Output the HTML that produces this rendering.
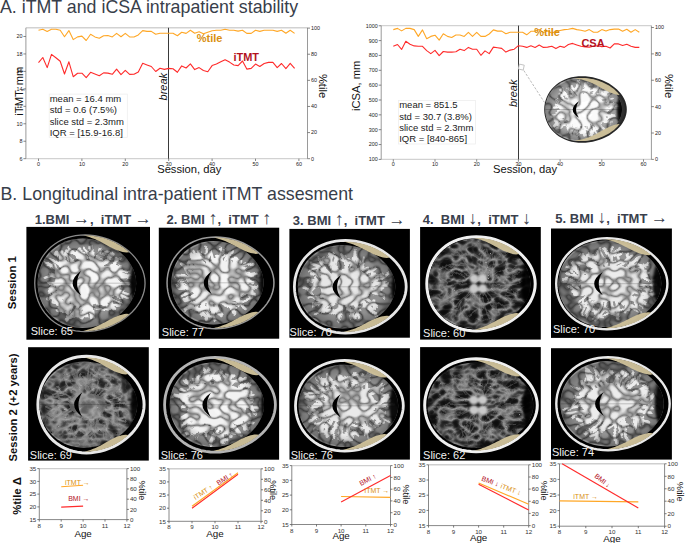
<!DOCTYPE html>
<html><head><meta charset="utf-8"><style>
html,body{margin:0;padding:0;background:#fff;width:685px;height:543px;overflow:hidden}
svg{display:block;font-family:'Liberation Sans', sans-serif} text{white-space:pre}
</style></head><body>
<svg width="685" height="543" viewBox="0 0 685 543">
<defs><filter id="d_inset" x="-5%" y="-5%" width="110%" height="110%" color-interpolation-filters="sRGB">
<feTurbulence type="fractalNoise" baseFrequency="0.08" numOctaves="2" seed="2" result="n"/>
<feDisplacementMap in="SourceGraphic" in2="n" scale="6" xChannelSelector="R" yChannelSelector="G" result="dm"/>
<feGaussianBlur in="dm" stdDeviation="0.45"/>
</filter>
<filter id="s_inset" x="0" y="0" width="1" height="1" color-interpolation-filters="sRGB">
<feTurbulence type="turbulence" baseFrequency="0.1 0.115" numOctaves="1" seed="52" result="t"/>
<feComponentTransfer in="t" result="k"><feFuncA type="table" tableValues="1 0.55 0.1 0 0 0 0 0 0 0"/></feComponentTransfer>
<feColorMatrix in="k" type="matrix" values="0 0 0 0 0  0 0 0 0 0  0 0 0 0 0  0 0 0 0.45 0" result="m"/>
<feGaussianBlur in="m" stdDeviation="0.3"/>
</filter>
<filter id="d_r1b1" x="-5%" y="-5%" width="110%" height="110%" color-interpolation-filters="sRGB">
<feTurbulence type="fractalNoise" baseFrequency="0.06" numOctaves="2" seed="3" result="n"/>
<feDisplacementMap in="SourceGraphic" in2="n" scale="9" xChannelSelector="R" yChannelSelector="G" result="dm"/>
<feGaussianBlur in="dm" stdDeviation="0.45"/>
</filter>
<filter id="s_r1b1" x="0" y="0" width="1" height="1" color-interpolation-filters="sRGB">
<feTurbulence type="turbulence" baseFrequency="0.1 0.115" numOctaves="1" seed="53" result="t"/>
<feComponentTransfer in="t" result="k"><feFuncA type="table" tableValues="1 0.55 0.1 0 0 0 0 0 0 0"/></feComponentTransfer>
<feColorMatrix in="k" type="matrix" values="0 0 0 0 0  0 0 0 0 0  0 0 0 0 0  0 0 0 0.5 0" result="m"/>
<feGaussianBlur in="m" stdDeviation="0.3"/>
</filter>
<filter id="d_r1b2" x="-5%" y="-5%" width="110%" height="110%" color-interpolation-filters="sRGB">
<feTurbulence type="fractalNoise" baseFrequency="0.06" numOctaves="2" seed="5" result="n"/>
<feDisplacementMap in="SourceGraphic" in2="n" scale="9" xChannelSelector="R" yChannelSelector="G" result="dm"/>
<feGaussianBlur in="dm" stdDeviation="0.45"/>
</filter>
<filter id="s_r1b2" x="0" y="0" width="1" height="1" color-interpolation-filters="sRGB">
<feTurbulence type="turbulence" baseFrequency="0.1 0.115" numOctaves="1" seed="55" result="t"/>
<feComponentTransfer in="t" result="k"><feFuncA type="table" tableValues="1 0.55 0.1 0 0 0 0 0 0 0"/></feComponentTransfer>
<feColorMatrix in="k" type="matrix" values="0 0 0 0 0  0 0 0 0 0  0 0 0 0 0  0 0 0 0.5 0" result="m"/>
<feGaussianBlur in="m" stdDeviation="0.3"/>
</filter>
<filter id="d_r1b3" x="-5%" y="-5%" width="110%" height="110%" color-interpolation-filters="sRGB">
<feTurbulence type="fractalNoise" baseFrequency="0.06" numOctaves="2" seed="7" result="n"/>
<feDisplacementMap in="SourceGraphic" in2="n" scale="9" xChannelSelector="R" yChannelSelector="G" result="dm"/>
<feGaussianBlur in="dm" stdDeviation="0.45"/>
</filter>
<filter id="s_r1b3" x="0" y="0" width="1" height="1" color-interpolation-filters="sRGB">
<feTurbulence type="turbulence" baseFrequency="0.1 0.115" numOctaves="1" seed="57" result="t"/>
<feComponentTransfer in="t" result="k"><feFuncA type="table" tableValues="1 0.55 0.1 0 0 0 0 0 0 0"/></feComponentTransfer>
<feColorMatrix in="k" type="matrix" values="0 0 0 0 0  0 0 0 0 0  0 0 0 0 0  0 0 0 0.48 0" result="m"/>
<feGaussianBlur in="m" stdDeviation="0.3"/>
</filter>
<filter id="d_r1b4" x="-5%" y="-5%" width="110%" height="110%" color-interpolation-filters="sRGB">
<feTurbulence type="fractalNoise" baseFrequency="0.06" numOctaves="2" seed="11" result="n"/>
<feDisplacementMap in="SourceGraphic" in2="n" scale="9" xChannelSelector="R" yChannelSelector="G" result="dm"/>
<feGaussianBlur in="dm" stdDeviation="0.45"/>
</filter>
<filter id="t_r1b4" x="0" y="0" width="1" height="1" color-interpolation-filters="sRGB">
<feTurbulence type="turbulence" baseFrequency="0.075 0.1" numOctaves="2" seed="18" result="t"/>
<feColorMatrix in="t" type="matrix" values="1 0 0 0 0  1 0 0 0 0  1 0 0 0 0  0 0 0 0 1" result="g"/>
<feComponentTransfer in="g"><feFuncR type="table" tableValues="0.6 0.44 0.2 0.09 0.06 0.05 0.05"/><feFuncG type="table" tableValues="0.6 0.44 0.2 0.09 0.06 0.05 0.05"/><feFuncB type="table" tableValues="0.6 0.44 0.2 0.09 0.06 0.05 0.05"/></feComponentTransfer>
<feGaussianBlur stdDeviation="0.3"/>
</filter>
<filter id="d_r1b5" x="-5%" y="-5%" width="110%" height="110%" color-interpolation-filters="sRGB">
<feTurbulence type="fractalNoise" baseFrequency="0.06" numOctaves="2" seed="13" result="n"/>
<feDisplacementMap in="SourceGraphic" in2="n" scale="9" xChannelSelector="R" yChannelSelector="G" result="dm"/>
<feGaussianBlur in="dm" stdDeviation="0.45"/>
</filter>
<filter id="s_r1b5" x="0" y="0" width="1" height="1" color-interpolation-filters="sRGB">
<feTurbulence type="turbulence" baseFrequency="0.1 0.115" numOctaves="1" seed="63" result="t"/>
<feComponentTransfer in="t" result="k"><feFuncA type="table" tableValues="1 0.55 0.1 0 0 0 0 0 0 0"/></feComponentTransfer>
<feColorMatrix in="k" type="matrix" values="0 0 0 0 0  0 0 0 0 0  0 0 0 0 0  0 0 0 0.48 0" result="m"/>
<feGaussianBlur in="m" stdDeviation="0.3"/>
</filter>
<filter id="d_r2b1" x="-5%" y="-5%" width="110%" height="110%" color-interpolation-filters="sRGB">
<feTurbulence type="fractalNoise" baseFrequency="0.06" numOctaves="2" seed="17" result="n"/>
<feDisplacementMap in="SourceGraphic" in2="n" scale="9" xChannelSelector="R" yChannelSelector="G" result="dm"/>
<feGaussianBlur in="dm" stdDeviation="0.45"/>
</filter>
<filter id="t_r2b1" x="0" y="0" width="1" height="1" color-interpolation-filters="sRGB">
<feTurbulence type="turbulence" baseFrequency="0.075 0.1" numOctaves="2" seed="24" result="t"/>
<feColorMatrix in="t" type="matrix" values="1 0 0 0 0  1 0 0 0 0  1 0 0 0 0  0 0 0 0 1" result="g"/>
<feComponentTransfer in="g"><feFuncR type="table" tableValues="0.64 0.5 0.28 0.15 0.11 0.1 0.1"/><feFuncG type="table" tableValues="0.64 0.5 0.28 0.15 0.11 0.1 0.1"/><feFuncB type="table" tableValues="0.64 0.5 0.28 0.15 0.11 0.1 0.1"/></feComponentTransfer>
<feGaussianBlur stdDeviation="0.3"/>
</filter>
<filter id="d_r2b2" x="-5%" y="-5%" width="110%" height="110%" color-interpolation-filters="sRGB">
<feTurbulence type="fractalNoise" baseFrequency="0.06" numOctaves="2" seed="19" result="n"/>
<feDisplacementMap in="SourceGraphic" in2="n" scale="9" xChannelSelector="R" yChannelSelector="G" result="dm"/>
<feGaussianBlur in="dm" stdDeviation="0.45"/>
</filter>
<filter id="s_r2b2" x="0" y="0" width="1" height="1" color-interpolation-filters="sRGB">
<feTurbulence type="turbulence" baseFrequency="0.1 0.115" numOctaves="1" seed="69" result="t"/>
<feComponentTransfer in="t" result="k"><feFuncA type="table" tableValues="1 0.55 0.1 0 0 0 0 0 0 0"/></feComponentTransfer>
<feColorMatrix in="k" type="matrix" values="0 0 0 0 0  0 0 0 0 0  0 0 0 0 0  0 0 0 0.5 0" result="m"/>
<feGaussianBlur in="m" stdDeviation="0.3"/>
</filter>
<filter id="d_r2b3" x="-5%" y="-5%" width="110%" height="110%" color-interpolation-filters="sRGB">
<feTurbulence type="fractalNoise" baseFrequency="0.06" numOctaves="2" seed="23" result="n"/>
<feDisplacementMap in="SourceGraphic" in2="n" scale="9" xChannelSelector="R" yChannelSelector="G" result="dm"/>
<feGaussianBlur in="dm" stdDeviation="0.45"/>
</filter>
<filter id="s_r2b3" x="0" y="0" width="1" height="1" color-interpolation-filters="sRGB">
<feTurbulence type="turbulence" baseFrequency="0.1 0.115" numOctaves="1" seed="73" result="t"/>
<feComponentTransfer in="t" result="k"><feFuncA type="table" tableValues="1 0.55 0.1 0 0 0 0 0 0 0"/></feComponentTransfer>
<feColorMatrix in="k" type="matrix" values="0 0 0 0 0  0 0 0 0 0  0 0 0 0 0  0 0 0 0.48 0" result="m"/>
<feGaussianBlur in="m" stdDeviation="0.3"/>
</filter>
<filter id="d_r2b4" x="-5%" y="-5%" width="110%" height="110%" color-interpolation-filters="sRGB">
<feTurbulence type="fractalNoise" baseFrequency="0.06" numOctaves="2" seed="29" result="n"/>
<feDisplacementMap in="SourceGraphic" in2="n" scale="9" xChannelSelector="R" yChannelSelector="G" result="dm"/>
<feGaussianBlur in="dm" stdDeviation="0.45"/>
</filter>
<filter id="t_r2b4" x="0" y="0" width="1" height="1" color-interpolation-filters="sRGB">
<feTurbulence type="turbulence" baseFrequency="0.075 0.1" numOctaves="2" seed="36" result="t"/>
<feColorMatrix in="t" type="matrix" values="1 0 0 0 0  1 0 0 0 0  1 0 0 0 0  0 0 0 0 1" result="g"/>
<feComponentTransfer in="g"><feFuncR type="table" tableValues="0.6 0.44 0.2 0.09 0.06 0.05 0.05"/><feFuncG type="table" tableValues="0.6 0.44 0.2 0.09 0.06 0.05 0.05"/><feFuncB type="table" tableValues="0.6 0.44 0.2 0.09 0.06 0.05 0.05"/></feComponentTransfer>
<feGaussianBlur stdDeviation="0.3"/>
</filter>
<filter id="d_r2b5" x="-5%" y="-5%" width="110%" height="110%" color-interpolation-filters="sRGB">
<feTurbulence type="fractalNoise" baseFrequency="0.06" numOctaves="2" seed="31" result="n"/>
<feDisplacementMap in="SourceGraphic" in2="n" scale="9" xChannelSelector="R" yChannelSelector="G" result="dm"/>
<feGaussianBlur in="dm" stdDeviation="0.45"/>
</filter>
<filter id="s_r2b5" x="0" y="0" width="1" height="1" color-interpolation-filters="sRGB">
<feTurbulence type="turbulence" baseFrequency="0.1 0.115" numOctaves="1" seed="81" result="t"/>
<feComponentTransfer in="t" result="k"><feFuncA type="table" tableValues="1 0.55 0.1 0 0 0 0 0 0 0"/></feComponentTransfer>
<feColorMatrix in="k" type="matrix" values="0 0 0 0 0  0 0 0 0 0  0 0 0 0 0  0 0 0 0.48 0" result="m"/>
<feGaussianBlur in="m" stdDeviation="0.3"/>
</filter>
<filter id="soft2" x="-20%" y="-20%" width="140%" height="140%"><feGaussianBlur stdDeviation="0.9"/></filter>
<filter id="soft" x="-20%" y="-20%" width="140%" height="140%"><feGaussianBlur stdDeviation="0.6"/></filter>
<radialGradient id="vign"><stop offset="0.72" stop-color="#000" stop-opacity="0"/><stop offset="1" stop-color="#000" stop-opacity="0.25"/></radialGradient></defs>
<text x="0" y="12.8" font-size="17.8" fill="#383e4a" font-weight="400" text-anchor="start" font-style="normal" >A. iTMT and iCSA intrapatient stability</text>
<line x1="25.9" y1="27.8" x2="307.5" y2="27.8" stroke="#d2d2d2" stroke-width="1.4"/>
<line x1="25.9" y1="158.7" x2="307.5" y2="158.7" stroke="#d2d2d2" stroke-width="1.2"/>
<line x1="25.9" y1="27.8" x2="25.9" y2="158.7" stroke="#9a9a9a" stroke-width="1"/>
<line x1="307.5" y1="27.8" x2="307.5" y2="158.7" stroke="#9a9a9a" stroke-width="1"/>
<line x1="23.4" y1="158.7" x2="25.9" y2="158.7" stroke="#555" stroke-width="0.7"/>
<text x="22.4" y="160.6" font-size="5.4" fill="#222" font-weight="400" text-anchor="end" font-style="normal" >6</text>
<line x1="23.4" y1="141.23999999999998" x2="25.9" y2="141.23999999999998" stroke="#555" stroke-width="0.7"/>
<text x="22.4" y="143.14" font-size="5.4" fill="#222" font-weight="400" text-anchor="end" font-style="normal" >8</text>
<line x1="23.4" y1="123.77999999999999" x2="25.9" y2="123.77999999999999" stroke="#555" stroke-width="0.7"/>
<text x="22.4" y="125.67999999999999" font-size="5.4" fill="#222" font-weight="400" text-anchor="end" font-style="normal" >10</text>
<line x1="23.4" y1="106.32" x2="25.9" y2="106.32" stroke="#555" stroke-width="0.7"/>
<text x="22.4" y="108.22" font-size="5.4" fill="#222" font-weight="400" text-anchor="end" font-style="normal" >12</text>
<line x1="23.4" y1="88.85999999999999" x2="25.9" y2="88.85999999999999" stroke="#555" stroke-width="0.7"/>
<text x="22.4" y="90.75999999999999" font-size="5.4" fill="#222" font-weight="400" text-anchor="end" font-style="normal" >14</text>
<line x1="23.4" y1="71.39999999999998" x2="25.9" y2="71.39999999999998" stroke="#555" stroke-width="0.7"/>
<text x="22.4" y="73.29999999999998" font-size="5.4" fill="#222" font-weight="400" text-anchor="end" font-style="normal" >16</text>
<line x1="23.4" y1="53.93999999999998" x2="25.9" y2="53.93999999999998" stroke="#555" stroke-width="0.7"/>
<text x="22.4" y="55.83999999999998" font-size="5.4" fill="#222" font-weight="400" text-anchor="end" font-style="normal" >18</text>
<line x1="23.4" y1="36.47999999999999" x2="25.9" y2="36.47999999999999" stroke="#555" stroke-width="0.7"/>
<text x="22.4" y="38.37999999999999" font-size="5.4" fill="#222" font-weight="400" text-anchor="end" font-style="normal" >20</text>
<line x1="307.5" y1="158.7" x2="310.0" y2="158.7" stroke="#555" stroke-width="0.7"/>
<text x="311.0" y="160.6" font-size="5.4" fill="#222" font-weight="400" text-anchor="start" font-style="normal" >0</text>
<line x1="307.5" y1="132.57999999999998" x2="310.0" y2="132.57999999999998" stroke="#555" stroke-width="0.7"/>
<text x="311.0" y="134.48" font-size="5.4" fill="#222" font-weight="400" text-anchor="start" font-style="normal" >20</text>
<line x1="307.5" y1="106.45999999999998" x2="310.0" y2="106.45999999999998" stroke="#555" stroke-width="0.7"/>
<text x="311.0" y="108.35999999999999" font-size="5.4" fill="#222" font-weight="400" text-anchor="start" font-style="normal" >40</text>
<line x1="307.5" y1="80.33999999999999" x2="310.0" y2="80.33999999999999" stroke="#555" stroke-width="0.7"/>
<text x="311.0" y="82.24" font-size="5.4" fill="#222" font-weight="400" text-anchor="start" font-style="normal" >60</text>
<line x1="307.5" y1="54.219999999999985" x2="310.0" y2="54.219999999999985" stroke="#555" stroke-width="0.7"/>
<text x="311.0" y="56.11999999999998" font-size="5.4" fill="#222" font-weight="400" text-anchor="start" font-style="normal" >80</text>
<line x1="307.5" y1="28.099999999999994" x2="310.0" y2="28.099999999999994" stroke="#555" stroke-width="0.7"/>
<text x="311.0" y="29.999999999999993" font-size="5.4" fill="#222" font-weight="400" text-anchor="start" font-style="normal" >100</text>
<line x1="38.5" y1="158.7" x2="38.5" y2="161.0" stroke="#555" stroke-width="0.7"/>
<text x="38.5" y="165.5" font-size="5.4" fill="#222" font-weight="400" text-anchor="middle" font-style="normal" >0</text>
<line x1="81.9" y1="158.7" x2="81.9" y2="161.0" stroke="#555" stroke-width="0.7"/>
<text x="81.9" y="165.5" font-size="5.4" fill="#222" font-weight="400" text-anchor="middle" font-style="normal" >10</text>
<line x1="125.3" y1="158.7" x2="125.3" y2="161.0" stroke="#555" stroke-width="0.7"/>
<text x="125.3" y="165.5" font-size="5.4" fill="#222" font-weight="400" text-anchor="middle" font-style="normal" >20</text>
<line x1="168.7" y1="158.7" x2="168.7" y2="161.0" stroke="#555" stroke-width="0.7"/>
<text x="168.7" y="165.5" font-size="5.4" fill="#222" font-weight="400" text-anchor="middle" font-style="normal" >30</text>
<line x1="212.1" y1="158.7" x2="212.1" y2="161.0" stroke="#555" stroke-width="0.7"/>
<text x="212.1" y="165.5" font-size="5.4" fill="#222" font-weight="400" text-anchor="middle" font-style="normal" >40</text>
<line x1="255.5" y1="158.7" x2="255.5" y2="161.0" stroke="#555" stroke-width="0.7"/>
<text x="255.5" y="165.5" font-size="5.4" fill="#222" font-weight="400" text-anchor="middle" font-style="normal" >50</text>
<line x1="298.9" y1="158.7" x2="298.9" y2="161.0" stroke="#555" stroke-width="0.7"/>
<text x="298.9" y="165.5" font-size="5.4" fill="#222" font-weight="400" text-anchor="middle" font-style="normal" >60</text>
<line x1="168.5" y1="27.8" x2="168.5" y2="158.7" stroke="#3a3a3a" stroke-width="1"/>
<polyline points="38.5,30.3 42.8,29.3 47.2,31.4 51.5,29.3 55.9,29.3 60.2,30.3 64.5,36.7 68.9,30.6 73.2,39.6 77.6,36.9 81.9,36.1 86.2,40.5 90.6,34.3 94.9,36.9 99.3,38.3 103.6,35.7 107.9,35.5 112.3,36.9 116.6,33.4 121.0,36.7 125.3,33.4 129.6,36.9 134.0,37.0 138.3,34.9 142.7,30.6 147.0,31.4 151.3,31.4 155.7,34.3 160.0,33.2 164.4,33.2 168.7,33.2 173.0,33.2 177.4,35.7 181.7,32.2 186.1,33.4 190.4,30.3 194.7,33.2 199.1,31.8 203.4,33.8 207.8,32.2 212.1,30.8 216.4,30.3 220.8,30.3 225.1,29.3 229.5,30.3 233.8,30.3 238.1,31.1 242.5,30.3 246.8,33.4 251.2,33.4 255.5,30.3 259.8,31.4 264.2,30.3 268.5,30.3 272.9,30.3 277.2,31.4 281.5,30.3 285.9,33.2 290.2,30.3 294.6,33.4" fill="none" stroke="#ffa726" stroke-width="1.1" stroke-linejoin="round"/>
<polyline points="38.5,62.6 42.8,57.5 47.2,67.6 51.5,54.4 55.9,57.7 60.2,61.2 64.5,74.0 68.9,61.8 73.2,76.7 77.6,73.2 81.9,73.2 86.2,77.6 90.6,72.3 94.9,74.0 99.3,75.8 103.6,72.9 107.9,73.1 112.3,74.3 116.6,69.1 121.0,74.6 125.3,70.3 129.6,74.4 134.0,74.3 138.3,71.9 142.7,63.3 147.0,64.9 151.3,66.5 155.7,71.5 160.0,68.2 164.4,69.4 168.7,68.4 173.0,68.8 177.4,72.3 181.7,65.9 186.1,68.0 190.4,63.8 194.7,69.6 199.1,67.6 203.4,70.5 207.8,71.7 212.1,65.6 216.4,64.1 220.8,61.8 225.1,59.8 229.5,62.1 233.8,65.0 238.1,65.6 242.5,61.0 246.8,69.1 251.2,68.4 255.5,64.1 259.8,66.5 264.2,63.5 268.5,62.4 272.9,62.4 277.2,67.6 281.5,63.5 285.9,68.6 290.2,63.3 294.6,68.4" fill="none" stroke="#ff2b2b" stroke-width="1.1" stroke-linejoin="round"/>
<text x="196.8" y="41.8" font-size="11" fill="#d98f10" font-weight="700" text-anchor="start" font-style="normal" >%tile</text>
<text x="233.4" y="60.8" font-size="11" fill="#b3121e" font-weight="700" text-anchor="start" font-style="normal" >iTMT</text>
<rect x="49.2" y="94.1" width="78.1" height="43.2" fill="#fff" fill-opacity="0.85" stroke="#eee" stroke-width="0.8"/>
<text x="49.7" y="101.9" font-size="9.5" fill="#1a1a1a" font-weight="400" text-anchor="start" font-style="normal" >mean = 16.4 mm</text>
<text x="49.7" y="113.2" font-size="9.5" fill="#1a1a1a" font-weight="400" text-anchor="start" font-style="normal" >std = 0.6 (7.5%)</text>
<text x="49.7" y="124.5" font-size="9.5" fill="#1a1a1a" font-weight="400" text-anchor="start" font-style="normal" >slice std = 2.3mm</text>
<text x="49.7" y="135.8" font-size="9.5" fill="#1a1a1a" font-weight="400" text-anchor="start" font-style="normal" >IQR = [15.9-16.8]</text>
<text x="157.2" y="173" font-size="11.2" fill="#111" font-weight="400" text-anchor="start" font-style="normal" >Session, day</text>
<text transform="translate(23.2,91.1) rotate(-90)" font-size="11.2" text-anchor="middle" fill="#111">iTMT, mm</text>
<text transform="translate(319.3,86) rotate(90)" font-size="11.2" text-anchor="middle" fill="#111">%tile</text>
<text transform="translate(166.6,86.7) rotate(-90)" font-size="11" text-anchor="middle" font-style="italic" fill="#111">break</text>
<line x1="381.2" y1="25.6" x2="651.4" y2="25.6" stroke="#d2d2d2" stroke-width="1.4"/>
<line x1="381.2" y1="159.4" x2="651.4" y2="159.4" stroke="#d2d2d2" stroke-width="1.2"/>
<line x1="381.2" y1="25.6" x2="381.2" y2="159.4" stroke="#9a9a9a" stroke-width="1"/>
<line x1="651.4" y1="25.6" x2="651.4" y2="159.4" stroke="#9a9a9a" stroke-width="1"/>
<line x1="378.7" y1="159.4" x2="381.2" y2="159.4" stroke="#555" stroke-width="0.7"/>
<text x="377.7" y="161.3" font-size="5.4" fill="#222" font-weight="400" text-anchor="end" font-style="normal" >100</text>
<line x1="378.7" y1="144.55" x2="381.2" y2="144.55" stroke="#555" stroke-width="0.7"/>
<text x="377.7" y="146.45000000000002" font-size="5.4" fill="#222" font-weight="400" text-anchor="end" font-style="normal" >200</text>
<line x1="378.7" y1="129.70000000000002" x2="381.2" y2="129.70000000000002" stroke="#555" stroke-width="0.7"/>
<text x="377.7" y="131.60000000000002" font-size="5.4" fill="#222" font-weight="400" text-anchor="end" font-style="normal" >300</text>
<line x1="378.7" y1="114.85000000000001" x2="381.2" y2="114.85000000000001" stroke="#555" stroke-width="0.7"/>
<text x="377.7" y="116.75000000000001" font-size="5.4" fill="#222" font-weight="400" text-anchor="end" font-style="normal" >400</text>
<line x1="378.7" y1="100.0" x2="381.2" y2="100.0" stroke="#555" stroke-width="0.7"/>
<text x="377.7" y="101.9" font-size="5.4" fill="#222" font-weight="400" text-anchor="end" font-style="normal" >500</text>
<line x1="378.7" y1="85.15" x2="381.2" y2="85.15" stroke="#555" stroke-width="0.7"/>
<text x="377.7" y="87.05000000000001" font-size="5.4" fill="#222" font-weight="400" text-anchor="end" font-style="normal" >600</text>
<line x1="378.7" y1="70.30000000000001" x2="381.2" y2="70.30000000000001" stroke="#555" stroke-width="0.7"/>
<text x="377.7" y="72.20000000000002" font-size="5.4" fill="#222" font-weight="400" text-anchor="end" font-style="normal" >700</text>
<line x1="378.7" y1="55.45000000000002" x2="381.2" y2="55.45000000000002" stroke="#555" stroke-width="0.7"/>
<text x="377.7" y="57.350000000000016" font-size="5.4" fill="#222" font-weight="400" text-anchor="end" font-style="normal" >800</text>
<line x1="378.7" y1="40.60000000000001" x2="381.2" y2="40.60000000000001" stroke="#555" stroke-width="0.7"/>
<text x="377.7" y="42.50000000000001" font-size="5.4" fill="#222" font-weight="400" text-anchor="end" font-style="normal" >900</text>
<line x1="378.7" y1="25.75" x2="381.2" y2="25.75" stroke="#555" stroke-width="0.7"/>
<text x="377.7" y="27.65" font-size="5.4" fill="#222" font-weight="400" text-anchor="end" font-style="normal" >1000</text>
<line x1="651.4" y1="159.4" x2="653.9" y2="159.4" stroke="#555" stroke-width="0.7"/>
<text x="654.9" y="161.3" font-size="5.4" fill="#222" font-weight="400" text-anchor="start" font-style="normal" >0</text>
<line x1="651.4" y1="133.02" x2="653.9" y2="133.02" stroke="#555" stroke-width="0.7"/>
<text x="654.9" y="134.92000000000002" font-size="5.4" fill="#222" font-weight="400" text-anchor="start" font-style="normal" >20</text>
<line x1="651.4" y1="106.64000000000001" x2="653.9" y2="106.64000000000001" stroke="#555" stroke-width="0.7"/>
<text x="654.9" y="108.54000000000002" font-size="5.4" fill="#222" font-weight="400" text-anchor="start" font-style="normal" >40</text>
<line x1="651.4" y1="80.26" x2="653.9" y2="80.26" stroke="#555" stroke-width="0.7"/>
<text x="654.9" y="82.16000000000001" font-size="5.4" fill="#222" font-weight="400" text-anchor="start" font-style="normal" >60</text>
<line x1="651.4" y1="53.88000000000001" x2="653.9" y2="53.88000000000001" stroke="#555" stroke-width="0.7"/>
<text x="654.9" y="55.78000000000001" font-size="5.4" fill="#222" font-weight="400" text-anchor="start" font-style="normal" >80</text>
<line x1="651.4" y1="27.5" x2="653.9" y2="27.5" stroke="#555" stroke-width="0.7"/>
<text x="654.9" y="29.4" font-size="5.4" fill="#222" font-weight="400" text-anchor="start" font-style="normal" >100</text>
<line x1="393.3" y1="159.4" x2="393.3" y2="161.70000000000002" stroke="#555" stroke-width="0.7"/>
<text x="393.3" y="166.20000000000002" font-size="5.4" fill="#222" font-weight="400" text-anchor="middle" font-style="normal" >0</text>
<line x1="435.0" y1="159.4" x2="435.0" y2="161.70000000000002" stroke="#555" stroke-width="0.7"/>
<text x="435.0" y="166.20000000000002" font-size="5.4" fill="#222" font-weight="400" text-anchor="middle" font-style="normal" >10</text>
<line x1="476.70000000000005" y1="159.4" x2="476.70000000000005" y2="161.70000000000002" stroke="#555" stroke-width="0.7"/>
<text x="476.70000000000005" y="166.20000000000002" font-size="5.4" fill="#222" font-weight="400" text-anchor="middle" font-style="normal" >20</text>
<line x1="518.4" y1="159.4" x2="518.4" y2="161.70000000000002" stroke="#555" stroke-width="0.7"/>
<text x="518.4" y="166.20000000000002" font-size="5.4" fill="#222" font-weight="400" text-anchor="middle" font-style="normal" >30</text>
<line x1="560.1" y1="159.4" x2="560.1" y2="161.70000000000002" stroke="#555" stroke-width="0.7"/>
<text x="560.1" y="166.20000000000002" font-size="5.4" fill="#222" font-weight="400" text-anchor="middle" font-style="normal" >40</text>
<line x1="601.8" y1="159.4" x2="601.8" y2="161.70000000000002" stroke="#555" stroke-width="0.7"/>
<text x="601.8" y="166.20000000000002" font-size="5.4" fill="#222" font-weight="400" text-anchor="middle" font-style="normal" >50</text>
<line x1="643.5" y1="159.4" x2="643.5" y2="161.70000000000002" stroke="#555" stroke-width="0.7"/>
<text x="643.5" y="166.20000000000002" font-size="5.4" fill="#222" font-weight="400" text-anchor="middle" font-style="normal" >60</text>
<line x1="518.5" y1="25.6" x2="518.5" y2="159.4" stroke="#3a3a3a" stroke-width="1"/>
<polyline points="393.3,29.6 397.5,28.4 401.6,30.9 405.8,28.4 410.0,28.4 414.2,29.6 418.3,36.4 422.5,29.9 426.7,38.7 430.8,36.4 435.0,35.2 439.2,40.1 443.3,33.8 447.5,36.4 451.7,37.5 455.9,35.0 460.0,35.0 464.2,36.4 468.4,32.3 472.5,36.4 476.7,32.3 480.9,36.4 485.0,36.4 489.2,34.0 493.4,29.9 497.6,31.1 501.7,31.1 505.9,33.7 510.1,32.3 514.2,32.3 518.4,32.3 522.6,32.3 526.7,34.8 530.9,31.3 535.1,31.1 539.2,29.5 543.4,32.4 547.6,31.0 551.8,33.0 555.9,31.4 560.1,30.5 564.3,29.6 568.4,29.3 572.6,28.4 576.8,29.6 581.0,30.3 585.1,31.3 589.3,29.6 593.5,32.3 597.6,32.3 601.8,29.6 606.0,31.1 610.1,29.6 614.3,29.1 618.5,29.1 622.6,31.3 626.8,29.3 631.0,32.3 635.2,29.6 639.3,32.3" fill="none" stroke="#ffa726" stroke-width="1.1" stroke-linejoin="round"/>
<polyline points="393.3,46.3 397.5,44.5 401.6,49.4 405.8,41.3 410.0,44.3 414.2,45.9 418.3,46.3 422.5,46.3 426.7,50.6 430.8,53.6 435.0,50.4 439.2,55.6 443.3,51.5 447.5,52.1 451.7,52.1 455.9,51.8 460.0,49.2 464.2,50.6 468.4,47.4 472.5,49.2 476.7,49.2 480.9,55.3 485.0,50.9 489.2,53.6 493.4,47.1 497.6,47.7 501.7,48.4 505.9,52.1 510.1,50.1 514.2,49.2 518.4,45.7 522.6,46.3 526.7,47.4 530.9,45.7 535.1,47.4 539.2,45.1 543.4,47.4 547.6,47.1 551.8,46.3 555.9,48.6 560.1,46.3 564.3,47.4 568.4,44.5 572.6,43.4 576.8,44.9 581.0,46.3 585.1,46.9 589.3,47.1 593.5,46.3 597.6,45.7 601.8,46.6 606.0,46.3 610.1,48.0 614.3,43.9 618.5,43.9 622.6,45.5 626.8,44.3 631.0,46.3 635.2,47.4 639.3,47.4" fill="none" stroke="#ff2b2b" stroke-width="1.1" stroke-linejoin="round"/>
<text x="534.3" y="36" font-size="11" fill="#d98f10" font-weight="700" text-anchor="start" font-style="normal" >%tile</text>
<text x="581.4" y="47.3" font-size="11" fill="#b3121e" font-weight="700" text-anchor="start" font-style="normal" >CSA</text>
<rect x="398.5" y="100.5" width="77" height="43.5" fill="#fff" fill-opacity="0.85" stroke="#eee" stroke-width="0.8"/>
<text x="399.2" y="108.2" font-size="9.5" fill="#1a1a1a" font-weight="400" text-anchor="start" font-style="normal" >mean = 851.5</text>
<text x="399.2" y="119.5" font-size="9.5" fill="#1a1a1a" font-weight="400" text-anchor="start" font-style="normal" >std = 30.7 (3.8%)</text>
<text x="399.2" y="130.8" font-size="9.5" fill="#1a1a1a" font-weight="400" text-anchor="start" font-style="normal" >slice std = 2.3mm</text>
<text x="399.2" y="142.1" font-size="9.5" fill="#1a1a1a" font-weight="400" text-anchor="start" font-style="normal" >IQR = [840-865]</text>
<text x="493" y="173" font-size="11.2" fill="#111" font-weight="400" text-anchor="start" font-style="normal" >Session, day</text>
<text transform="translate(359.5,85.9) rotate(-90)" font-size="11.2" text-anchor="middle" fill="#111">iCSA, mm</text>
<text transform="translate(664.7,86) rotate(90)" font-size="11.2" text-anchor="middle" fill="#111">%tile</text>
<text transform="translate(516.6,93.3) rotate(-90)" font-size="11" text-anchor="middle" font-style="italic" fill="#111">break</text>
<rect x="518.8" y="64.6" width="5" height="5" fill="#fff" stroke="#bbb" stroke-width="0.8" transform="rotate(12 521.3 67.1)"/>
<line x1="523.8" y1="70.5" x2="544.5" y2="102.5" stroke="#aaa" stroke-width="0.8" stroke-dasharray="2.5,1.5"/>
<path d="M625.80,109.50 L625.65,112.05 L625.19,114.60 L624.43,117.11 L623.37,119.58 L622.02,122.00 L620.40,124.35 L618.51,126.61 L616.37,128.77 L614.00,130.82 L611.40,132.74 L608.62,134.52 L605.65,136.13 L602.53,137.57 L599.28,138.83 L595.93,139.88 L592.50,140.72 L589.01,141.33 L585.50,141.70 L581.99,141.83 L578.50,141.71 L575.07,141.33 L571.72,140.69 L568.47,139.79 L565.35,138.64 L562.38,137.24 L559.60,135.59 L557.00,133.72 L554.63,131.62 L552.49,129.33 L550.60,126.85 L548.98,124.22 L547.63,121.44 L546.57,118.56 L545.81,115.59 L545.35,112.56 L545.20,109.50 L545.35,106.44 L545.81,103.41 L546.57,100.44 L547.63,97.56 L548.98,94.78 L550.60,92.15 L552.49,89.67 L554.63,87.38 L557.00,85.28 L559.60,83.41 L562.38,81.76 L565.35,80.36 L568.47,79.21 L571.72,78.31 L575.07,77.67 L578.50,77.29 L581.99,77.17 L585.50,77.30 L589.01,77.67 L592.50,78.28 L595.93,79.12 L599.28,80.17 L602.53,81.43 L605.65,82.87 L608.62,84.48 L611.40,86.26 L614.00,88.18 L616.37,90.23 L618.51,92.39 L620.40,94.65 L622.02,97.00 L623.37,99.42 L624.43,101.89 L625.19,104.40 L625.65,106.95Z" fill="#303030" stroke="#262626" stroke-width="2.0"/>
<clipPath id="c_inset"><path d="M622.05,109.50 L621.90,112.00 L621.47,114.48 L620.74,116.94 L619.73,119.36 L618.45,121.72 L616.90,124.02 L615.10,126.23 L613.06,128.35 L610.80,130.35 L608.33,132.23 L605.67,133.97 L602.85,135.55 L599.87,136.96 L596.78,138.18 L593.58,139.21 L590.31,140.03 L586.99,140.63 L583.64,140.99 L580.29,141.12 L576.97,141.00 L573.70,140.63 L570.50,140.01 L567.41,139.13 L564.44,138.00 L561.61,136.63 L558.95,135.02 L556.48,133.19 L554.22,131.14 L552.18,128.90 L550.38,126.47 L548.83,123.90 L547.55,121.18 L546.54,118.36 L545.82,115.45 L545.38,112.49 L545.23,109.50 L545.38,106.51 L545.82,103.55 L546.54,100.64 L547.55,97.82 L548.83,95.10 L550.38,92.53 L552.18,90.10 L554.22,87.86 L556.48,85.81 L558.95,83.98 L561.61,82.37 L564.44,81.00 L567.41,79.87 L570.50,78.99 L573.70,78.37 L576.97,78.00 L580.29,77.88 L583.64,78.01 L586.99,78.37 L590.31,78.97 L593.58,79.79 L596.78,80.82 L599.87,82.04 L602.85,83.45 L605.67,85.03 L608.33,86.77 L610.80,88.65 L613.06,90.65 L615.10,92.77 L616.90,94.98 L618.45,97.28 L619.73,99.64 L620.74,102.06 L621.47,104.52 L621.90,107.00Z"/></clipPath>
<g clip-path="url(#c_inset)">
<rect x="541.2" y="74.0" width="84.8" height="71.0" fill="#acacac"/>
<g filter="url(#d_inset)" opacity="1">
<ellipse cx="583.6" cy="109.5" rx="24.0" ry="15.7" fill="#fafafa"/>
<path d="M593.2,110.1 Q605.9,108.8 618.5,107.8 M593.0,111.1 Q603.1,113.3 613.1,115.5 M602.0,112.7 L605.6,117.7 M592.3,112.7 Q602.6,115.9 609.9,123.3 M606.9,118.1 L614.3,115.5 M591.2,114.0 Q598.4,120.4 610.5,121.8 M599.0,118.6 L606.2,118.0 M601.2,119.9 L609.6,117.3 M590.5,114.7 Q598.1,120.6 602.6,128.8 M600.0,121.9 L597.9,129.1 M589.4,115.4 Q595.6,123.5 604.3,130.1 M596.9,123.1 L595.2,129.4 M587.5,116.4 Q590.3,126.3 598.1,134.2 M594.2,128.4 L590.0,134.7 M591.9,124.2 L600.1,125.2 M585.3,117.1 Q587.6,126.7 591.8,135.8 M583.5,117.4 Q582.7,126.6 584.3,135.6 M583.4,126.6 L590.0,130.2 M582.0,117.4 Q578.8,124.9 574.1,132.2 M579.8,128.2 L584.3,132.9 M579.3,130.6 L586.2,135.0 M580.5,117.2 Q575.5,125.0 569.6,132.4 M575.3,130.2 L578.4,135.5 M577.3,125.2 L579.5,130.4 M577.7,116.0 Q570.9,121.8 569.9,131.0 M568.1,126.5 L571.0,133.4 M572.9,121.3 L574.4,127.4 M577.2,115.7 Q571.0,125.4 556.2,128.8 M567.1,125.2 L559.2,125.2 M569.1,123.4 L571.2,130.3 M575.4,113.9 Q564.2,118.6 554.4,125.5 M563.4,120.3 L555.4,116.9 M562.4,120.9 L561.6,128.0 M574.6,112.4 Q564.5,116.5 552.6,115.5 M565.0,115.4 L558.2,111.9 M558.7,117.4 L555.8,123.9 M574.4,111.7 Q564.8,114.2 555.9,118.6 M574.1,110.2 Q563.8,109.9 554.3,115.6 M564.2,110.9 L558.5,107.1 M561.4,111.1 L556.5,115.9 M574.2,108.0 Q564.4,106.4 554.1,108.6 M566.4,106.8 L560.4,109.4 M560.3,105.8 L556.2,100.0 M574.9,106.0 Q566.6,100.7 558.6,95.1 M563.4,101.5 L556.0,105.7 M576.1,104.3 Q568.7,96.6 559.3,90.8 M569.9,100.0 L562.5,100.9 M562.6,95.0 L562.4,88.1 M577.3,103.2 Q568.6,97.4 560.7,91.0 M578.7,102.4 Q574.5,95.0 568.6,88.4 M574.8,96.7 L568.1,94.6 M580.7,101.8 Q579.0,93.8 571.7,87.1 M577.1,92.6 L579.8,87.5 M575.6,88.8 L579.1,83.6 M581.1,101.7 Q578.6,91.6 579.9,81.3 M579.0,95.3 L583.2,90.4 M583.6,101.6 Q583.4,92.9 586.8,84.5 M583.6,91.2 L590.4,87.6 M585.4,101.9 Q588.4,93.3 588.3,84.0 M587.8,91.2 L595.5,88.8 M586.9,95.1 L584.0,90.0 M586.8,102.3 Q592.2,94.4 598.4,87.0 M589.2,103.4 Q593.9,94.4 607.7,91.0 M597.7,94.3 L605.7,94.1 M594.3,97.9 L600.8,96.5 M590.5,104.3 Q597.8,97.0 610.3,94.2 M600.7,96.5 L609.5,98.3 M601.1,96.2 L600.1,89.6 M591.8,105.7 Q601.8,100.4 614.0,97.9 M598.8,102.4 L605.8,103.5 M592.8,107.3 Q604.0,104.4 616.5,105.7 M606.9,103.8 L609.1,97.2 M593.0,107.8 Q604.0,105.3 615.8,105.0 M600.5,106.4 L606.8,109.1" stroke="#fafafa" stroke-width="2.4" stroke-linecap="round" stroke-linejoin="round" fill="none"/>
<ellipse cx="587.2" cy="109.5" rx="6.6" ry="8.6" fill="#ffffff"/>
</g>
<rect x="545.2" y="78.0" width="76.8" height="63.0" filter="url(#s_inset)"/>
<path d="M578.9,101.2 Q566.5,109.5 578.9,117.8 Q573.1,109.5 578.9,101.2Z" fill="#050505" filter="url(#soft)"/>
<ellipse cx="583.6" cy="109.5" rx="38.4" ry="31.5" fill="url(#vign)"/>
<line x1="545.2" y1="109.5" x2="622.1" y2="109.5" stroke="#111" stroke-width="0.7" opacity="0.3"/>
<ellipse cx="623.5" cy="109.5" rx="6.6" ry="18.3" fill="#000" opacity="0.9" filter="url(#soft2)"/>
</g>
<path d="M574.6,78.6 L576.3,78.3 L578.0,78.1 L579.7,78.0 L581.5,78.0 L583.2,78.0 L584.9,78.1 L586.7,78.2 L588.4,78.4 L590.2,78.7 L591.9,79.0 L593.6,79.3 L595.3,79.8 L597.0,80.2 L598.7,80.8 L600.3,81.4 L601.9,82.0 L603.5,82.7 L605.0,83.4 L606.5,84.2 L608.0,85.0 L609.4,85.8 L610.7,86.7 L612.1,87.7 L613.3,88.6 L614.5,89.6 L615.7,90.7 L616.8,91.7 L617.8,92.8 L618.8,93.9 L619.7,95.0 L619.7,95.0 L616.8,94.8 L614.9,94.3 L613.2,93.7 L611.7,93.1 L610.3,92.5 L608.9,91.9 L607.6,91.3 L606.4,90.7 L605.1,90.0 L603.9,89.4 L602.7,88.7 L601.5,88.1 L600.3,87.4 L599.1,86.7 L597.9,86.0 L596.6,85.3 L595.3,84.6 L593.9,83.9 L592.6,83.3 L591.1,82.7 L589.7,82.0 L588.1,81.5 L586.6,80.9 L585.0,80.4 L583.3,80.0 L581.7,79.6 L580.0,79.3 L578.2,79.0 L576.4,78.7 L574.6,78.6Z" fill="#cdc099" opacity="0.97"/>
<path d="M619.7,124.0 L618.8,125.1 L617.8,126.2 L616.8,127.3 L615.7,128.3 L614.5,129.4 L613.3,130.4 L612.1,131.3 L610.7,132.3 L609.4,133.2 L608.0,134.0 L606.5,134.8 L605.0,135.6 L603.5,136.3 L601.9,137.0 L600.3,137.6 L598.7,138.2 L597.0,138.8 L595.3,139.2 L593.6,139.7 L591.9,140.0 L590.2,140.3 L588.4,140.6 L586.7,140.8 L584.9,140.9 L583.2,141.0 L581.5,141.0 L579.7,141.0 L578.0,140.9 L576.3,140.7 L574.6,140.4 L574.6,140.4 L576.4,140.3 L578.2,140.0 L580.0,139.7 L581.7,139.4 L583.3,139.0 L585.0,138.6 L586.6,138.1 L588.1,137.5 L589.7,137.0 L591.1,136.3 L592.6,135.7 L593.9,135.1 L595.3,134.4 L596.6,133.7 L597.9,133.0 L599.1,132.3 L600.3,131.6 L601.5,130.9 L602.7,130.3 L603.9,129.6 L605.1,129.0 L606.4,128.3 L607.6,127.7 L608.9,127.1 L610.3,126.5 L611.7,125.9 L613.2,125.3 L614.9,124.7 L616.8,124.2 L619.7,124.0Z" fill="#cdc099" opacity="0.97"/>
<text x="0.5" y="200" font-size="17.8" fill="#383e4a" font-weight="400" text-anchor="start" font-style="normal" >B. Longitudinal intra-patient iTMT assesment</text>
<text id="hd0" x="34.7" y="223.5" font-size="13" fill="#3a404c" font-weight="700">1.BMI <tspan font-size="17" font-weight="400">→</tspan>,  iTMT <tspan font-size="17" font-weight="400">→</tspan></text>
<text id="hd1" x="166.6" y="223.6" font-size="13" fill="#3a404c" font-weight="700">2. BMI <tspan font-size="18" font-weight="400">↑</tspan>,  iTMT <tspan font-size="18" font-weight="400">↑</tspan></text>
<text id="hd2" x="292.8" y="224.6" font-size="13" fill="#3a404c" font-weight="700">3. BMI <tspan font-size="18" font-weight="400">↑</tspan>,  iTMT <tspan font-size="17" font-weight="400">→</tspan></text>
<text id="hd3" x="422.8" y="224" font-size="13" fill="#3a404c" font-weight="700">4.  BMI <tspan font-size="18" font-weight="400">↓</tspan>,  iTMT <tspan font-size="18" font-weight="400">↓</tspan></text>
<text id="hd4" x="555.3" y="223" font-size="13" fill="#3a404c" font-weight="700">5. BMI <tspan font-size="18" font-weight="400">↓</tspan>,  iTMT <tspan font-size="17" font-weight="400">→</tspan></text>
<text transform="translate(16.0,282.7) rotate(-90)" font-size="11.4" font-weight="700" text-anchor="middle" fill="#111">Session 1</text>
<text transform="translate(17.0,407.5) rotate(-90)" font-size="11.2" font-weight="700" text-anchor="middle" fill="#111">Session 2 (+2 years)</text>
<text transform="translate(20.5,496) rotate(-90)" font-size="11.3" font-weight="700" text-anchor="middle" fill="#111">%tile Δ</text>
<rect x="26.4" y="226.9" width="123.6" height="112.8" fill="#000"/>
<path d="M145.05,283.20 L144.84,287.02 L144.21,290.82 L143.17,294.58 L141.72,298.28 L139.88,301.89 L137.66,305.40 L135.08,308.78 L132.15,312.02 L128.90,315.08 L125.35,317.95 L121.53,320.61 L117.48,323.02 L113.21,325.18 L108.76,327.05 L104.17,328.63 L99.48,329.88 L94.71,330.79 L89.90,331.35 L85.09,331.54 L80.32,331.36 L75.63,330.79 L71.04,329.84 L66.59,328.50 L62.33,326.78 L58.27,324.68 L54.45,322.22 L50.90,319.41 L47.65,316.28 L44.72,312.85 L42.14,309.15 L39.92,305.21 L38.08,301.06 L36.63,296.75 L35.59,292.30 L34.96,287.77 L34.75,283.20 L34.96,278.63 L35.59,274.10 L36.63,269.65 L38.08,265.34 L39.92,261.19 L42.14,257.25 L44.72,253.55 L47.65,250.12 L50.90,246.99 L54.45,244.18 L58.27,241.72 L62.32,239.62 L66.59,237.90 L71.04,236.56 L75.63,235.61 L80.32,235.04 L85.09,234.86 L89.90,235.05 L94.71,235.61 L99.48,236.52 L104.17,237.77 L108.76,239.35 L113.21,241.22 L117.48,243.38 L121.53,245.79 L125.35,248.45 L128.90,251.32 L132.15,254.38 L135.08,257.62 L137.66,261.00 L139.88,264.51 L141.72,268.12 L143.17,271.82 L144.21,275.58 L144.84,279.38Z" fill="#000" stroke="#8a8a8a" stroke-width="1.3"/>
<clipPath id="c_r1b1"><path d="M136.16,283.20 L135.97,286.73 L135.41,290.24 L134.48,293.72 L133.19,297.13 L131.54,300.47 L129.56,303.72 L127.25,306.85 L124.63,309.84 L121.73,312.67 L118.56,315.32 L115.15,317.77 L111.52,320.01 L107.71,322.00 L103.74,323.73 L99.64,325.19 L95.44,326.34 L91.18,327.19 L86.89,327.71 L82.59,327.88 L78.33,327.71 L74.13,327.19 L70.03,326.31 L66.06,325.07 L62.25,323.48 L58.63,321.54 L55.22,319.27 L52.05,316.67 L49.14,313.78 L46.53,310.61 L44.22,307.19 L42.23,303.54 L40.59,299.71 L39.29,295.72 L38.36,291.61 L37.80,287.43 L37.62,283.20 L37.80,278.97 L38.36,274.79 L39.29,270.68 L40.59,266.69 L42.23,262.86 L44.22,259.21 L46.53,255.79 L49.14,252.62 L52.05,249.73 L55.22,247.13 L58.63,244.86 L62.25,242.92 L66.06,241.33 L70.03,240.09 L74.13,239.21 L78.33,238.69 L82.59,238.52 L86.89,238.69 L91.18,239.21 L95.44,240.06 L99.64,241.21 L103.74,242.67 L107.71,244.40 L111.52,246.39 L115.15,248.63 L118.56,251.08 L121.73,253.73 L124.63,256.56 L127.25,259.55 L129.56,262.68 L131.54,265.93 L133.19,269.27 L134.48,272.68 L135.41,276.16 L135.97,279.67Z"/></clipPath>
<g clip-path="url(#c_r1b1)">
<rect x="33.6" y="234.7" width="106.5" height="97.0" fill="#949494"/>
<g filter="url(#d_r1b1)" opacity="1">
<ellipse cx="86.9" cy="283.2" rx="32.0" ry="23.1" fill="#f4f4f4"/>
<path d="M99.2,282.7 Q113.6,281.4 128.2,282.9 M109.8,282.3 L115.8,275.5 M115.8,282.1 L121.3,273.6 M99.0,285.1 Q114.5,287.4 129.5,291.8 M116.3,287.9 L120.7,296.4 M109.4,286.8 L117.2,283.1 M98.6,286.3 Q113.8,290.2 127.8,297.0 M96.6,289.6 Q106.1,298.2 118.9,303.3 M96.2,290.0 Q107.0,295.6 111.0,307.9 M109.5,299.7 L109.4,308.6 M93.6,292.1 Q102.0,302.1 112.5,310.7 M105.1,307.3 L117.2,306.2 M91.3,293.3 Q93.4,304.6 94.4,316.2 M97.9,308.5 L108.5,310.4 M88.3,294.1 Q92.4,305.3 91.4,317.7 M90.0,308.2 L81.8,315.4 M89.6,304.6 L83.8,311.7 M87.1,294.3 Q86.5,305.7 84.0,317.2 M87.3,309.7 L79.4,316.3 M84.9,294.3 Q82.2,305.5 86.9,316.7 M82.5,307.8 L75.4,313.5 M81.5,312.9 L72.5,318.3 M82.9,294.0 Q78.7,308.2 67.4,320.3 M76.3,312.1 L83.0,319.7 M80.0,292.9 Q70.9,303.1 67.6,316.5 M67.8,310.2 L56.6,310.7 M71.7,304.7 L63.3,307.5 M78.0,291.4 Q69.7,303.3 55.3,310.0 M64.9,303.5 L54.2,302.0 M66.5,302.0 L68.8,312.2 M77.3,290.6 Q66.0,298.2 57.6,309.1 M67.8,297.9 L66.4,306.4 M63.8,301.0 L53.2,297.9 M75.9,288.6 Q60.4,292.1 46.6,299.7 M61.5,295.5 L52.5,292.7 M62.2,295.2 L58.7,303.2 M74.9,285.9 Q61.3,286.6 48.7,292.7 M61.2,289.0 L57.2,298.7 M74.6,283.3 Q61.7,286.1 48.4,283.1 M54.8,283.5 L48.8,293.6 M54.5,283.5 L48.5,293.4 M74.7,281.2 Q62.1,280.5 50.7,273.3 M60.8,278.8 L55.2,271.5 M64.6,279.5 L58.7,273.2 M75.1,279.6 Q60.7,272.0 47.0,263.2 M54.6,273.2 L46.1,277.3 M56.9,273.9 L53.4,264.1 M77.1,275.9 Q66.4,264.6 56.8,252.2 M66.9,268.3 L56.8,271.1 M60.3,263.4 L60.9,253.0 M77.5,275.5 Q64.2,267.8 52.1,258.6 M65.0,265.4 L63.5,257.0 M79.4,273.9 Q74.4,262.8 64.4,254.6 M71.7,264.4 L62.0,263.3 M82.8,272.4 Q80.5,260.7 79.7,248.9 M83.5,272.2 Q82.0,258.7 69.0,247.5 M79.8,260.5 L83.0,253.4 M77.9,254.5 L66.7,251.0 M85.9,272.0 Q84.8,260.9 78.0,250.1 M84.7,257.6 L77.2,251.5 M89.0,272.4 Q92.2,259.5 92.0,245.8 M91.3,260.2 L86.8,252.8 M92.2,256.0 L84.7,248.3 M90.7,272.9 Q96.1,261.5 99.9,249.5 M93.9,264.2 L100.7,260.0 M96.6,256.9 L106.3,254.1 M94.1,274.6 Q100.7,263.8 111.0,255.3 M100.3,267.2 L108.9,265.4 M100.0,267.5 L108.9,266.1 M96.2,276.4 Q106.7,266.6 119.3,258.8 M111.2,265.4 L122.0,268.1 M97.2,277.6 Q108.0,272.3 114.2,261.7 M113.4,268.7 L114.1,259.5 M112.3,269.4 L121.6,271.1 M97.8,278.5 Q110.4,270.3 128.1,270.5 M115.8,270.8 L125.5,275.1 M98.7,280.4 Q113.6,277.0 129.3,276.0 M117.1,276.1 L120.9,267.7" stroke="#f4f4f4" stroke-width="3.3" stroke-linecap="round" stroke-linejoin="round" fill="none"/>
<ellipse cx="92.1" cy="283.2" rx="8.9" ry="12.7" fill="#f8f8f8"/>
</g>
<rect x="37.6" y="238.7" width="98.5" height="89.0" filter="url(#s_r1b1)"/>
<path d="M81.0,271.0 Q64.2,283.2 81.0,295.4 Q73.2,283.2 81.0,271.0Z" fill="#050505" filter="url(#soft)"/>
<ellipse cx="86.9" cy="283.2" rx="49.3" ry="44.5" fill="url(#vign)"/>
<line x1="37.6" y1="283.2" x2="136.2" y2="283.2" stroke="#111" stroke-width="0.7" opacity="0.3"/>
<ellipse cx="141.2" cy="283.2" rx="11.2" ry="26.8" fill="#000" opacity="0.9" filter="url(#soft2)"/>
</g>
<path d="M83.2,235.4 L84.9,235.4 L86.6,235.4 L88.3,235.5 L90.0,235.6 L91.6,235.7 L93.3,235.9 L95.0,236.2 L96.7,236.5 L98.4,236.8 L100.0,237.2 L101.7,237.6 L103.3,238.0 L104.9,238.5 L106.5,239.1 L108.1,239.7 L109.7,240.3 L111.3,240.9 L112.8,241.6 L114.3,242.3 L115.8,243.1 L117.3,243.9 L118.7,244.7 L120.2,245.5 L121.5,246.4 L122.9,247.3 L124.2,248.2 L125.5,249.2 L126.8,250.2 L128.0,251.2 L129.2,252.3 L129.2,252.3 L126.4,252.6 L124.4,252.3 L122.6,252.0 L121.0,251.5 L119.5,251.1 L118.0,250.6 L116.6,250.0 L115.2,249.4 L113.8,248.8 L112.5,248.2 L111.2,247.5 L109.9,246.9 L108.6,246.2 L107.3,245.5 L106.0,244.7 L104.7,244.0 L103.3,243.3 L102.0,242.6 L100.6,241.8 L99.1,241.1 L97.7,240.4 L96.2,239.8 L94.7,239.1 L93.1,238.5 L91.6,237.9 L90.0,237.3 L88.3,236.8 L86.7,236.3 L85.0,235.8 L83.2,235.4Z" fill="#cdc099" opacity="0.97"/>
<path d="M129.2,314.1 L128.0,315.2 L126.8,316.2 L125.5,317.2 L124.2,318.2 L122.9,319.1 L121.5,320.0 L120.2,320.9 L118.7,321.7 L117.3,322.5 L115.8,323.3 L114.3,324.1 L112.8,324.8 L111.3,325.5 L109.7,326.1 L108.1,326.7 L106.5,327.3 L104.9,327.9 L103.3,328.4 L101.7,328.8 L100.0,329.2 L98.4,329.6 L96.7,329.9 L95.0,330.2 L93.3,330.5 L91.6,330.7 L90.0,330.8 L88.3,330.9 L86.6,331.0 L84.9,331.0 L83.2,331.0 L83.2,331.0 L85.0,330.6 L86.7,330.1 L88.3,329.6 L90.0,329.1 L91.6,328.5 L93.1,327.9 L94.7,327.3 L96.2,326.6 L97.7,326.0 L99.1,325.3 L100.6,324.6 L102.0,323.8 L103.3,323.1 L104.7,322.4 L106.0,321.7 L107.3,320.9 L108.6,320.2 L109.9,319.5 L111.2,318.9 L112.5,318.2 L113.8,317.6 L115.2,317.0 L116.6,316.4 L118.0,315.8 L119.5,315.3 L121.0,314.9 L122.6,314.4 L124.4,314.1 L126.4,313.8 L129.2,314.1Z" fill="#cdc099" opacity="0.97"/>
<text x="30.7" y="335.1" font-size="11" fill="#f2f2f2" font-weight="400" text-anchor="start" font-style="normal" >Slice: 65</text>
<rect x="158.8" y="227.7" width="120.4" height="111.0" fill="#000"/>
<path d="M273.95,282.80 L273.75,286.42 L273.14,290.02 L272.13,293.59 L270.73,297.09 L268.94,300.52 L266.79,303.85 L264.28,307.05 L261.45,310.12 L258.29,313.03 L254.86,315.75 L251.16,318.26 L247.23,320.56 L243.09,322.60 L238.78,324.38 L234.33,325.87 L229.78,327.05 L225.16,327.92 L220.50,328.45 L215.84,328.63 L211.22,328.46 L206.67,327.92 L202.22,327.02 L197.91,325.75 L193.78,324.11 L189.84,322.12 L186.14,319.79 L182.71,317.13 L179.55,314.17 L176.72,310.91 L174.21,307.40 L172.06,303.67 L170.27,299.73 L168.87,295.64 L167.86,291.43 L167.25,287.14 L167.05,282.80 L167.25,278.46 L167.86,274.17 L168.87,269.96 L170.27,265.87 L172.06,261.93 L174.21,258.20 L176.72,254.69 L179.55,251.43 L182.71,248.47 L186.14,245.81 L189.84,243.48 L193.77,241.49 L197.91,239.85 L202.22,238.58 L206.67,237.68 L211.22,237.14 L215.84,236.97 L220.50,237.15 L225.16,237.68 L229.78,238.55 L234.33,239.73 L238.78,241.22 L243.09,243.00 L247.23,245.04 L251.16,247.34 L254.86,249.85 L258.29,252.57 L261.45,255.48 L264.28,258.55 L266.79,261.75 L268.94,265.08 L270.73,268.51 L272.13,272.01 L273.14,275.58 L273.75,279.18Z" fill="#000" stroke="#9a9a9a" stroke-width="1.5"/>
<clipPath id="c_r1b2"><path d="M263.48,282.80 L263.31,286.09 L262.78,289.37 L261.91,292.61 L260.70,295.80 L259.16,298.92 L257.31,301.95 L255.15,304.86 L252.70,307.65 L249.99,310.30 L247.02,312.77 L243.84,315.06 L240.45,317.15 L236.88,319.01 L233.17,320.62 L229.33,321.98 L225.41,323.06 L221.43,323.85 L217.41,324.33 L213.40,324.49 L209.41,324.34 L205.49,323.85 L201.65,323.02 L197.94,321.87 L194.38,320.38 L190.99,318.57 L187.80,316.45 L184.83,314.03 L182.12,311.33 L179.67,308.38 L177.51,305.18 L175.66,301.78 L174.12,298.20 L172.91,294.48 L172.04,290.65 L171.52,286.74 L171.34,282.80 L171.52,278.86 L172.04,274.95 L172.91,271.12 L174.12,267.40 L175.66,263.82 L177.51,260.42 L179.67,257.22 L182.12,254.27 L184.83,251.57 L187.80,249.15 L190.99,247.03 L194.38,245.22 L197.94,243.73 L201.65,242.58 L205.49,241.75 L209.41,241.26 L213.40,241.11 L217.41,241.27 L221.43,241.75 L225.41,242.54 L229.33,243.62 L233.17,244.98 L236.88,246.59 L240.45,248.45 L243.84,250.54 L247.02,252.83 L249.99,255.30 L252.70,257.95 L255.15,260.74 L257.31,263.65 L259.16,266.68 L260.70,269.80 L261.91,272.99 L262.78,276.23 L263.31,279.51Z"/></clipPath>
<g clip-path="url(#c_r1b2)">
<rect x="167.3" y="237.3" width="100.1" height="91.1" fill="#929292"/>
<g filter="url(#d_r1b2)" opacity="1">
<ellipse cx="217.4" cy="282.8" rx="29.9" ry="21.6" fill="#f2f2f2"/>
<path d="M228.9,283.0 Q243.2,285.0 257.0,288.6 M228.9,283.9 Q241.4,287.6 254.8,288.0 M243.4,285.2 L250.3,280.4 M228.3,285.8 Q239.5,290.2 252.0,291.4 M246.5,290.8 L250.4,297.8 M227.4,287.6 Q240.6,291.4 254.2,294.0 M237.5,292.5 L246.5,289.2 M225.8,289.4 Q236.8,298.3 246.4,308.6 M240.5,300.9 L251.7,297.3 M224.1,290.8 Q233.4,298.3 242.6,305.8 M231.6,299.6 L240.9,300.0 M222.6,291.7 Q229.5,300.9 231.8,312.5 M229.2,303.0 L237.0,305.6 M220.6,292.5 Q222.1,305.4 234.9,314.3 M225.0,305.9 L233.6,308.9 M217.0,293.2 Q213.3,305.7 221.2,317.7 M216.3,310.1 L208.8,316.0 M216.4,307.0 L210.5,313.1 M214.7,293.1 Q208.7,305.7 214.2,319.6 M211.6,304.9 L202.0,308.7 M213.3,292.8 Q207.6,305.9 205.1,319.7 M209.3,302.6 L213.5,309.6 M211.3,292.0 Q203.1,302.0 202.2,315.4 M200.9,308.0 L203.6,316.0 M201.5,307.1 L191.0,307.8 M209.8,291.0 Q198.9,301.4 186.3,310.2 M202.1,299.3 L203.3,307.7 M208.3,289.6 Q199.5,299.0 185.0,301.5 M196.9,298.1 L197.9,307.9 M196.6,298.4 L187.3,296.7 M206.9,287.5 Q196.3,294.8 184.1,299.4 M206.1,284.8 Q193.1,288.1 181.1,294.5 M188.1,287.9 L180.8,283.1 M205.9,283.1 Q192.5,286.6 178.6,286.4 M189.0,283.5 L182.5,277.1 M206.2,280.2 Q191.1,277.9 175.7,277.8 M188.6,276.1 L184.9,266.6 M206.7,278.6 Q193.6,272.2 181.4,264.1 M191.3,272.4 L188.2,264.0 M208.3,276.0 Q199.3,265.4 190.1,255.1 M196.1,267.0 L187.4,267.9 M193.1,264.8 L194.0,255.0 M209.6,274.7 Q198.2,266.2 193.1,252.4 M198.1,262.9 L198.9,254.4 M196.5,261.2 L199.3,251.8 M210.2,274.2 Q202.5,265.5 196.9,255.4 M199.6,261.5 L188.5,262.8 M212.4,273.1 Q203.3,261.6 205.6,246.0 M205.6,260.0 L209.4,252.4 M205.3,259.4 L196.8,256.3 M216.0,272.4 Q213.9,262.2 210.5,252.2 M214.6,262.9 L221.7,257.3 M214.4,260.9 L220.4,255.1 M217.1,272.4 Q219.9,260.4 220.6,248.1 M216.6,255.6 L224.3,250.6 M216.7,260.1 L225.2,255.4 M220.6,273.1 Q223.3,261.1 233.2,251.7 M223.4,264.2 L219.8,257.0 M221.9,273.6 Q230.0,264.6 232.1,252.7 M228.8,259.7 L239.9,259.1 M224.0,274.7 Q233.5,267.9 238.0,257.3 M231.3,265.6 L240.4,264.9 M232.3,264.4 L229.3,255.8 M226.2,276.5 Q233.4,267.9 241.7,260.2 M237.4,268.5 L246.2,269.1 M233.5,271.3 L241.8,271.3 M226.6,277.0 Q237.9,268.1 252.0,262.5 M239.8,268.6 L241.6,261.4 M236.5,270.7 L245.7,272.4 M228.2,279.5 Q238.6,275.5 250.3,274.7 M236.9,276.9 L244.9,280.3 M228.5,280.3 Q241.5,275.5 255.5,273.4 M245.1,276.6 L253.0,282.7" stroke="#f2f2f2" stroke-width="3.3" stroke-linecap="round" stroke-linejoin="round" fill="none"/>
<ellipse cx="222.7" cy="282.8" rx="8.7" ry="12.1" fill="#f6f6f6"/>
</g>
<rect x="171.3" y="241.3" width="92.1" height="83.1" filter="url(#s_r1b2)"/>
<path d="M211.8,271.2 Q195.6,282.8 211.8,294.4 Q204.2,282.8 211.8,271.2Z" fill="#050505" filter="url(#soft)"/>
<ellipse cx="217.4" cy="282.8" rx="46.1" ry="41.5" fill="url(#vign)"/>
<line x1="171.3" y1="282.8" x2="263.5" y2="282.8" stroke="#111" stroke-width="0.7" opacity="0.3"/>
<ellipse cx="270.4" cy="282.8" rx="10.8" ry="25.5" fill="#000" opacity="0.9" filter="url(#soft2)"/>
</g>
<path d="M214.1,237.6 L215.7,237.6 L217.3,237.6 L218.9,237.6 L220.6,237.8 L222.2,237.9 L223.8,238.1 L225.4,238.3 L227.1,238.6 L228.7,238.9 L230.3,239.3 L231.9,239.7 L233.5,240.1 L235.0,240.6 L236.6,241.1 L238.1,241.6 L239.7,242.2 L241.2,242.8 L242.7,243.4 L244.1,244.1 L245.6,244.8 L247.0,245.6 L248.4,246.4 L249.8,247.2 L251.1,248.0 L252.4,248.9 L253.7,249.7 L255.0,250.7 L256.2,251.6 L257.4,252.5 L258.5,253.5 L258.5,253.5 L255.8,253.9 L253.9,253.6 L252.1,253.3 L250.6,252.9 L249.1,252.4 L247.6,251.9 L246.3,251.4 L244.9,250.9 L243.6,250.3 L242.4,249.7 L241.1,249.1 L239.8,248.5 L238.6,247.8 L237.3,247.1 L236.1,246.5 L234.8,245.8 L233.5,245.1 L232.2,244.4 L230.8,243.7 L229.4,243.0 L228.0,242.4 L226.6,241.7 L225.1,241.1 L223.6,240.5 L222.1,240.0 L220.6,239.4 L219.0,238.9 L217.4,238.4 L215.7,238.0 L214.1,237.6Z" fill="#cdc099" opacity="0.97"/>
<path d="M258.5,312.1 L257.4,313.1 L256.2,314.0 L255.0,314.9 L253.7,315.9 L252.4,316.7 L251.1,317.6 L249.8,318.4 L248.4,319.2 L247.0,320.0 L245.6,320.8 L244.1,321.5 L242.7,322.2 L241.2,322.8 L239.7,323.4 L238.1,324.0 L236.6,324.5 L235.0,325.0 L233.5,325.5 L231.9,325.9 L230.3,326.3 L228.7,326.7 L227.1,327.0 L225.4,327.3 L223.8,327.5 L222.2,327.7 L220.6,327.8 L218.9,328.0 L217.3,328.0 L215.7,328.0 L214.1,328.0 L214.1,328.0 L215.7,327.6 L217.4,327.2 L219.0,326.7 L220.6,326.2 L222.1,325.6 L223.6,325.1 L225.1,324.5 L226.6,323.9 L228.0,323.2 L229.4,322.6 L230.8,321.9 L232.2,321.2 L233.5,320.5 L234.8,319.8 L236.1,319.1 L237.3,318.5 L238.6,317.8 L239.8,317.1 L241.1,316.5 L242.4,315.9 L243.6,315.3 L244.9,314.7 L246.3,314.2 L247.6,313.7 L249.1,313.2 L250.6,312.7 L252.1,312.3 L253.9,312.0 L255.8,311.7 L258.5,312.1Z" fill="#cdc099" opacity="0.97"/>
<text x="161.8" y="335.8" font-size="11" fill="#f2f2f2" font-weight="400" text-anchor="start" font-style="normal" >Slice: 77</text>
<rect x="289.4" y="228.9" width="120.5" height="108.8" fill="#000"/>
<path d="M406.20,286.80 L405.99,290.46 L405.35,294.10 L404.30,297.69 L402.83,301.23 L400.96,304.69 L398.71,308.05 L396.09,311.29 L393.12,314.39 L389.83,317.32 L386.23,320.07 L382.36,322.61 L378.25,324.93 L373.92,326.99 L369.42,328.79 L364.77,330.29 L360.01,331.49 L355.17,332.36 L350.30,332.90 L345.43,333.08 L340.59,332.91 L335.83,332.37 L331.18,331.45 L326.68,330.17 L322.35,328.52 L318.24,326.51 L314.37,324.16 L310.77,321.47 L307.48,318.48 L304.51,315.19 L301.89,311.65 L299.64,307.87 L297.77,303.90 L296.30,299.77 L295.25,295.51 L294.61,291.18 L294.40,286.80 L294.61,282.42 L295.25,278.09 L296.30,273.83 L297.77,269.70 L299.64,265.73 L301.89,261.95 L304.51,258.41 L307.48,255.12 L310.77,252.13 L314.37,249.44 L318.24,247.09 L322.35,245.08 L326.68,243.43 L331.18,242.15 L335.83,241.23 L340.59,240.69 L345.43,240.52 L350.30,240.70 L355.17,241.24 L360.01,242.11 L364.77,243.31 L369.42,244.81 L373.92,246.61 L378.25,248.67 L382.36,250.99 L386.23,253.53 L389.83,256.28 L393.12,259.21 L396.09,262.31 L398.71,265.55 L400.96,268.91 L402.83,272.37 L404.30,275.91 L405.35,279.50 L405.99,283.14Z" fill="#000" stroke="#e6e6e6" stroke-width="2.8"/>
<clipPath id="c_r1b3"><path d="M395.28,286.80 L395.10,290.10 L394.54,293.38 L393.62,296.62 L392.34,299.81 L390.72,302.93 L388.76,305.96 L386.47,308.88 L383.89,311.67 L381.02,314.32 L377.88,316.80 L374.51,319.09 L370.93,321.17 L367.16,323.04 L363.23,324.65 L359.18,326.01 L355.03,327.09 L350.82,327.88 L346.58,328.36 L342.33,328.53 L338.12,328.37 L333.97,327.88 L329.92,327.06 L325.99,325.90 L322.22,324.41 L318.64,322.60 L315.27,320.48 L312.14,318.06 L309.27,315.36 L306.68,312.40 L304.40,309.20 L302.43,305.80 L300.81,302.22 L299.53,298.49 L298.61,294.66 L298.06,290.75 L297.87,286.80 L298.06,282.85 L298.61,278.94 L299.53,275.11 L300.81,271.38 L302.43,267.80 L304.40,264.40 L306.68,261.20 L309.27,258.24 L312.14,255.54 L315.27,253.12 L318.64,251.00 L322.22,249.19 L325.99,247.70 L329.92,246.54 L333.97,245.72 L338.12,245.23 L342.33,245.07 L346.58,245.24 L350.82,245.72 L355.03,246.51 L359.18,247.59 L363.23,248.95 L367.16,250.56 L370.93,252.43 L374.51,254.51 L377.88,256.80 L381.02,259.28 L383.89,261.93 L386.47,264.72 L388.76,267.64 L390.72,270.67 L392.34,273.79 L393.62,276.98 L394.54,280.22 L395.10,283.50Z"/></clipPath>
<g clip-path="url(#c_r1b3)">
<rect x="293.9" y="241.2" width="105.4" height="91.1" fill="#909090"/>
<g filter="url(#d_r1b3)" opacity="1">
<ellipse cx="346.6" cy="286.8" rx="26.8" ry="18.3" fill="#e6e6e6"/>
<path d="M358.7,286.5 Q371.3,287.0 383.3,281.6 M372.9,286.2 L378.8,279.1 M369.5,286.3 L376.6,290.0 M358.7,288.0 Q371.9,291.1 386.3,286.6 M375.9,289.7 L383.2,283.9 M380.1,290.1 L387.5,283.6 M358.1,289.9 Q371.0,293.6 383.8,297.5 M375.2,294.4 L383.9,289.7 M371.6,293.5 L380.2,289.5 M356.6,292.3 Q368.0,298.9 377.3,307.6 M373.8,301.8 L374.7,310.1 M354.9,293.9 Q363.4,301.9 372.4,309.4 M353.7,294.8 Q365.6,303.7 373.8,315.4 M362.9,305.1 L374.1,304.1 M352.1,295.7 Q356.6,307.1 360.8,318.5 M358.3,305.9 L354.5,314.0 M361.0,310.3 L356.4,318.7 M348.6,296.9 Q349.3,307.3 350.8,317.5 M347.0,297.1 Q346.3,308.8 354.6,319.1 M347.5,307.2 L354.5,312.0 M347.5,308.4 L354.5,313.3 M343.3,297.1 Q342.0,309.2 337.2,321.0 M340.3,306.7 L330.9,310.6 M339.4,309.5 L329.9,313.5 M342.2,296.8 Q340.2,308.0 337.2,319.0 M338.6,304.9 L341.2,311.8 M336.8,309.0 L327.1,312.1 M340.1,296.0 Q331.5,304.4 322.2,312.2 M330.2,310.3 L318.5,310.4 M337.4,294.1 Q326.4,303.9 315.2,313.6 M324.3,304.6 L323.6,312.9 M336.5,293.1 Q325.9,299.0 319.2,309.5 M323.1,301.5 L313.2,298.7 M326.4,299.4 L317.6,298.9 M335.5,291.5 Q323.8,297.6 313.6,306.1 M334.6,289.1 Q321.7,294.4 308.6,299.3 M321.9,291.5 L317.0,299.1 M313.7,293.1 L305.8,287.8 M334.4,286.7 Q322.4,286.5 310.8,280.9 M321.5,286.6 L315.4,278.6 M334.6,284.9 Q321.9,282.6 309.1,280.8 M317.6,282.2 L310.0,289.7 M335.5,282.1 Q323.9,276.9 311.3,273.6 M326.4,278.2 L323.0,270.5 M320.0,275.4 L317.4,266.6 M337.0,279.9 Q326.6,268.4 310.1,263.1 M327.2,272.9 L318.0,273.5 M319.9,267.7 L309.5,270.3 M338.2,278.8 Q325.4,270.6 318.8,257.1 M340.3,277.5 Q331.0,267.8 329.3,254.6 M330.1,262.6 L333.9,254.4 M341.1,277.1 Q338.6,266.2 324.5,259.6 M334.2,264.9 L324.2,262.7 M334.2,264.8 L336.6,257.4 M344.3,276.4 Q344.1,266.1 342.6,255.8 M340.8,260.3 L331.7,255.6 M347.3,276.5 Q346.3,265.4 346.0,254.4 M348.2,262.2 L356.6,257.7 M348.0,276.6 Q352.8,264.5 354.0,251.6 M350.4,260.0 L342.6,253.1 M351.3,277.6 Q355.6,268.3 356.8,257.9 M358.8,262.8 L355.2,255.0 M355.6,269.0 L352.7,261.6 M353.4,278.6 Q363.1,270.1 364.5,256.7 M360.5,270.0 L368.7,268.0 M361.9,268.4 L358.2,259.7 M355.8,280.5 Q366.8,273.8 376.8,266.1 M369.5,271.0 L379.7,272.8 M356.7,281.5 Q367.6,275.9 380.9,273.6 M358.1,283.8 Q370.2,280.3 382.1,276.6 M371.0,280.4 L375.0,273.6 M370.8,280.4 L373.9,272.3 M358.4,284.4 Q373.2,282.3 385.9,274.5" stroke="#e6e6e6" stroke-width="2.9" stroke-linecap="round" stroke-linejoin="round" fill="none"/>
<ellipse cx="352.6" cy="286.8" rx="9.2" ry="12.3" fill="#e8e8e8"/>
</g>
<rect x="297.9" y="245.2" width="97.4" height="83.1" filter="url(#s_r1b3)"/>
<path d="M341.1,274.9 Q323.9,286.8 341.1,298.7 Q333.1,286.8 341.1,274.9Z" fill="#050505" filter="url(#soft)"/>
<ellipse cx="346.6" cy="286.8" rx="48.7" ry="41.6" fill="url(#vign)"/>
<line x1="297.9" y1="286.8" x2="395.3" y2="286.8" stroke="#111" stroke-width="0.7" opacity="0.3"/>
<ellipse cx="403.0" cy="286.8" rx="11.5" ry="26.1" fill="#000" opacity="0.9" filter="url(#soft2)"/>
</g>
<path d="M343.6,241.7 L345.3,241.6 L347.0,241.7 L348.7,241.7 L350.4,241.8 L352.1,242.0 L353.7,242.2 L355.4,242.4 L357.1,242.7 L358.8,243.0 L360.4,243.3 L362.1,243.7 L363.7,244.2 L365.4,244.6 L367.0,245.1 L368.6,245.7 L370.2,246.3 L371.7,246.9 L373.3,247.5 L374.8,248.2 L376.3,248.9 L377.8,249.6 L379.2,250.4 L380.6,251.2 L382.0,252.0 L383.4,252.9 L384.7,253.8 L386.0,254.7 L387.3,255.6 L388.5,256.6 L389.7,257.6 L389.7,257.6 L386.8,257.9 L384.8,257.7 L383.0,257.4 L381.4,257.0 L379.8,256.6 L378.3,256.1 L376.9,255.6 L375.5,255.0 L374.2,254.5 L372.9,253.9 L371.6,253.3 L370.3,252.6 L369.0,252.0 L367.7,251.3 L366.4,250.6 L365.1,249.9 L363.7,249.3 L362.4,248.6 L361.0,247.9 L359.5,247.2 L358.1,246.5 L356.6,245.9 L355.1,245.2 L353.5,244.6 L352.0,244.1 L350.4,243.5 L348.7,243.0 L347.1,242.5 L345.4,242.1 L343.6,241.7Z" fill="#cdc099" opacity="0.97"/>
<path d="M389.7,316.0 L388.5,317.0 L387.3,318.0 L386.0,318.9 L384.7,319.8 L383.4,320.7 L382.0,321.6 L380.6,322.4 L379.2,323.2 L377.8,324.0 L376.3,324.7 L374.8,325.4 L373.3,326.1 L371.7,326.7 L370.2,327.3 L368.6,327.9 L367.0,328.5 L365.4,329.0 L363.7,329.4 L362.1,329.9 L360.4,330.3 L358.8,330.6 L357.1,330.9 L355.4,331.2 L353.7,331.4 L352.1,331.6 L350.4,331.8 L348.7,331.9 L347.0,331.9 L345.3,332.0 L343.6,331.9 L343.6,331.9 L345.4,331.5 L347.1,331.1 L348.7,330.6 L350.4,330.1 L352.0,329.5 L353.5,329.0 L355.1,328.4 L356.6,327.7 L358.1,327.1 L359.5,326.4 L361.0,325.7 L362.4,325.0 L363.7,324.3 L365.1,323.7 L366.4,323.0 L367.7,322.3 L369.0,321.6 L370.3,321.0 L371.6,320.3 L372.9,319.7 L374.2,319.1 L375.5,318.6 L376.9,318.0 L378.3,317.5 L379.8,317.0 L381.4,316.6 L383.0,316.2 L384.8,315.9 L386.8,315.7 L389.7,316.0Z" fill="#cdc099" opacity="0.97"/>
<text x="289.6" y="336.1" font-size="11" fill="#f2f2f2" font-weight="400" text-anchor="start" font-style="normal" >Slice: 70</text>
<rect x="420.1" y="227.0" width="120.7" height="112.6" fill="#000"/>
<path d="M535.20,283.80 L534.99,287.52 L534.38,291.22 L533.35,294.88 L531.93,298.48 L530.12,302.00 L527.94,305.42 L525.40,308.72 L522.52,311.87 L519.33,314.85 L515.84,317.65 L512.09,320.24 L508.10,322.59 L503.91,324.69 L499.54,326.51 L495.03,328.05 L490.41,329.27 L485.72,330.16 L481.00,330.70 L476.28,330.89 L471.59,330.71 L466.97,330.16 L462.46,329.23 L458.09,327.92 L453.90,326.24 L449.91,324.20 L446.16,321.81 L442.67,319.07 L439.48,316.03 L436.60,312.68 L434.06,309.08 L431.88,305.24 L430.07,301.20 L428.65,296.99 L427.62,292.67 L427.01,288.25 L426.80,283.80 L427.01,279.35 L427.62,274.93 L428.65,270.61 L430.07,266.40 L431.88,262.36 L434.06,258.52 L436.60,254.92 L439.48,251.57 L442.67,248.53 L446.16,245.79 L449.91,243.40 L453.90,241.36 L458.09,239.68 L462.46,238.37 L466.97,237.44 L471.59,236.89 L476.28,236.71 L481.00,236.90 L485.72,237.44 L490.41,238.33 L495.03,239.55 L499.54,241.09 L503.91,242.91 L508.10,245.01 L512.09,247.36 L515.84,249.95 L519.33,252.75 L522.52,255.73 L525.40,258.88 L527.94,262.18 L530.12,265.60 L531.93,269.12 L533.35,272.72 L534.38,276.38 L534.99,280.08Z" fill="#000" stroke="#f0f0f0" stroke-width="3.0"/>
<clipPath id="c_r1b4"><path d="M530.35,283.80 L530.16,287.35 L529.58,290.89 L528.61,294.38 L527.28,297.82 L525.58,301.18 L523.52,304.44 L521.13,307.59 L518.43,310.59 L515.42,313.44 L512.14,316.11 L508.62,318.58 L504.87,320.83 L500.92,322.83 L496.82,324.58 L492.58,326.04 L488.23,327.20 L483.83,328.05 L479.38,328.57 L474.94,328.75 L470.53,328.58 L466.19,328.05 L461.95,327.17 L457.85,325.92 L453.90,324.32 L450.15,322.37 L446.62,320.08 L443.35,317.47 L440.34,314.56 L437.64,311.37 L435.25,307.93 L433.19,304.26 L431.49,300.41 L430.16,296.39 L429.19,292.26 L428.61,288.05 L428.42,283.80 L428.61,279.55 L429.19,275.34 L430.16,271.21 L431.49,267.19 L433.19,263.34 L435.25,259.67 L437.64,256.23 L440.34,253.04 L443.35,250.13 L446.62,247.52 L450.15,245.23 L453.90,243.28 L457.85,241.68 L461.95,240.43 L466.19,239.55 L470.53,239.02 L474.94,238.85 L479.38,239.03 L483.83,239.55 L488.23,240.40 L492.58,241.56 L496.82,243.02 L500.92,244.77 L504.87,246.77 L508.62,249.02 L512.14,251.49 L515.42,254.16 L518.43,257.01 L521.13,260.01 L523.52,263.16 L525.58,266.42 L527.28,269.78 L528.61,273.22 L529.58,276.71 L530.16,280.25Z"/></clipPath>
<g clip-path="url(#c_r1b4)">
<rect x="428.4" y="239.0" width="101.9" height="89.5" filter="url(#t_r1b4)"/>
<g filter="url(#d_r1b4)" opacity="0.35">
<path d="M492.1,283.7 Q507.0,286.2 522.2,283.1 M509.8,283.6 L516.1,275.8 M510.1,283.6 L517.2,278.4 M491.7,286.3 Q503.6,290.6 516.0,293.5 M513.7,290.9 L517.4,300.1 M503.5,288.8 L512.0,283.6 M490.6,288.7 Q500.3,295.5 512.2,299.4 M506.2,295.5 L516.1,292.1 M487.5,291.9 Q495.9,302.1 506.8,310.5 M502.1,306.6 L514.2,304.8 M495.8,300.3 L496.3,308.1 M484.5,293.7 Q492.3,302.4 497.6,312.5 M488.8,301.7 L496.8,305.0 M482.2,294.5 Q483.7,306.8 489.5,318.1 M485.0,305.2 L480.1,312.8 M484.5,303.2 L478.5,310.9 M478.4,295.0 Q480.3,306.9 482.5,318.6 M477.1,310.3 L468.4,316.3 M473.1,294.0 Q465.8,307.0 459.0,320.3 M461.9,312.2 L465.7,320.8 M470.5,292.4 Q459.0,299.8 454.4,313.3 M455.9,306.5 L455.8,315.3 M459.6,303.0 L461.5,312.7 M468.9,290.6 Q459.4,300.2 449.6,309.5 M457.9,297.7 L448.3,296.2 M450.4,302.6 L439.1,297.5 M467.4,288.0 Q453.7,291.7 441.6,299.6 M450.5,293.8 L446.2,302.0 M451.2,293.6 L441.9,286.8 M466.6,283.6 Q452.3,286.2 438.2,289.5 M447.5,283.2 L440.8,275.3 M467.4,279.6 Q453.7,274.5 442.5,264.4 M452.2,274.2 L443.2,278.0 M469.2,276.6 Q456.5,271.7 445.9,263.8 M460.4,270.4 L451.2,270.8 M451.1,263.8 L440.6,266.3 M471.7,274.4 Q462.6,261.2 453.8,247.8 M464.5,265.5 L453.7,265.2 M462.8,263.5 L466.6,254.1 M473.1,273.6 Q465.5,261.3 461.2,247.7 M461.9,255.3 L450.7,253.6 M467.9,265.0 L457.8,262.9 M478.5,272.6 Q478.9,260.2 482.2,248.1 M477.1,254.7 L485.7,249.0 M481.5,272.9 Q484.4,260.9 487.7,249.0 M484.5,257.3 L495.5,254.0 M484.5,273.9 Q491.3,261.8 496.2,248.9 M492.3,258.5 L487.9,250.0 M487.0,275.3 Q497.0,268.8 497.8,256.0 M496.8,264.4 L495.0,255.7 M489.7,277.7 Q502.1,270.4 516.4,265.6 M507.4,267.0 L519.0,271.5 M504.7,268.6 L504.6,259.1 M491.8,281.4 Q506.7,276.6 521.6,272.1 M513.1,277.4 L518.3,270.3 M512.1,277.6 L516.0,268.5" stroke="#9a9a9a" stroke-width="1.4" stroke-linecap="round" stroke-linejoin="round" fill="none"/>
</g>
<g fill="#cacaca" filter="url(#soft2)"><circle cx="474.0" cy="278.5" r="4.5"/><circle cx="482.7" cy="278.5" r="4.5"/><circle cx="474.0" cy="288.6" r="4.5"/><circle cx="482.7" cy="288.6" r="4.5"/></g>
<ellipse cx="479.4" cy="283.8" rx="51.0" ry="44.8" fill="url(#vign)"/>
<line x1="428.4" y1="283.8" x2="530.4" y2="283.8" stroke="#111" stroke-width="0.7" opacity="0.3"/>
<ellipse cx="532.2" cy="283.8" rx="11.1" ry="26.6" fill="#000" opacity="0.9" filter="url(#soft2)"/>
</g>
<path d="M474.5,237.9 L476.2,237.9 L477.8,237.9 L479.4,238.0 L481.1,238.1 L482.7,238.3 L484.3,238.4 L486.0,238.7 L487.6,239.0 L489.2,239.3 L490.8,239.6 L492.4,240.0 L494.0,240.5 L495.6,241.0 L497.1,241.5 L498.7,242.0 L500.2,242.6 L501.7,243.2 L503.2,243.9 L504.7,244.6 L506.2,245.3 L507.6,246.0 L509.0,246.8 L510.4,247.6 L511.7,248.5 L513.0,249.4 L514.3,250.3 L515.6,251.2 L516.8,252.1 L518.0,253.1 L519.1,254.1 L519.1,254.1 L516.3,254.5 L514.4,254.3 L512.7,253.9 L511.1,253.5 L509.6,253.1 L508.1,252.6 L506.7,252.1 L505.4,251.6 L504.1,251.0 L502.8,250.4 L501.6,249.8 L500.3,249.1 L499.1,248.4 L497.8,247.8 L496.6,247.1 L495.3,246.4 L494.0,245.7 L492.7,245.0 L491.3,244.3 L489.9,243.6 L488.5,242.9 L487.1,242.2 L485.6,241.6 L484.1,241.0 L482.6,240.4 L481.1,239.8 L479.5,239.3 L477.9,238.8 L476.2,238.4 L474.5,237.9Z" fill="#cdc099" opacity="0.97"/>
<path d="M519.1,313.5 L518.0,314.5 L516.8,315.5 L515.6,316.4 L514.3,317.3 L513.0,318.2 L511.7,319.1 L510.4,320.0 L509.0,320.8 L507.6,321.6 L506.2,322.3 L504.7,323.0 L503.2,323.7 L501.7,324.4 L500.2,325.0 L498.7,325.6 L497.1,326.1 L495.6,326.6 L494.0,327.1 L492.4,327.6 L490.8,328.0 L489.2,328.3 L487.6,328.6 L486.0,328.9 L484.3,329.2 L482.7,329.3 L481.1,329.5 L479.4,329.6 L477.8,329.7 L476.2,329.7 L474.5,329.7 L474.5,329.7 L476.2,329.2 L477.9,328.8 L479.5,328.3 L481.1,327.8 L482.6,327.2 L484.1,326.6 L485.6,326.0 L487.1,325.4 L488.5,324.7 L489.9,324.0 L491.3,323.3 L492.7,322.6 L494.0,321.9 L495.3,321.2 L496.6,320.5 L497.8,319.8 L499.1,319.2 L500.3,318.5 L501.6,317.8 L502.8,317.2 L504.1,316.6 L505.4,316.0 L506.7,315.5 L508.1,315.0 L509.6,314.5 L511.1,314.1 L512.7,313.7 L514.4,313.3 L516.3,313.1 L519.1,313.5Z" fill="#cdc099" opacity="0.97"/>
<text x="423.1" y="336.7" font-size="11" fill="#f2f2f2" font-weight="400" text-anchor="start" font-style="normal" >Slice: 60</text>
<rect x="551.0" y="228.5" width="120.9" height="109.4" fill="#000"/>
<path d="M667.40,283.70 L667.19,287.29 L666.56,290.87 L665.51,294.41 L664.05,297.88 L662.19,301.28 L659.95,304.58 L657.34,307.77 L654.39,310.81 L651.12,313.69 L647.54,316.39 L643.69,318.89 L639.60,321.17 L635.30,323.19 L630.82,324.96 L626.19,326.44 L621.45,327.61 L616.65,328.47 L611.80,329.00 L606.95,329.18 L602.15,329.01 L597.41,328.48 L592.78,327.58 L588.30,326.32 L584.00,324.70 L579.91,322.72 L576.06,320.41 L572.48,317.77 L569.21,314.83 L566.26,311.60 L563.65,308.12 L561.41,304.41 L559.55,300.50 L558.09,296.44 L557.04,292.26 L556.41,288.00 L556.20,283.70 L556.41,279.40 L557.04,275.14 L558.09,270.96 L559.55,266.90 L561.41,262.99 L563.65,259.28 L566.26,255.80 L569.21,252.57 L572.48,249.63 L576.06,246.99 L579.91,244.68 L584.00,242.70 L588.30,241.08 L592.78,239.82 L597.41,238.92 L602.15,238.39 L606.95,238.22 L611.80,238.40 L616.65,238.93 L621.45,239.79 L626.19,240.96 L630.82,242.44 L635.30,244.21 L639.60,246.23 L643.69,248.51 L647.54,251.01 L651.12,253.71 L654.39,256.59 L657.34,259.63 L659.95,262.82 L662.19,266.12 L664.05,269.52 L665.51,272.99 L666.56,276.53 L667.19,280.11Z" fill="#000" stroke="#e8e8e8" stroke-width="2.4"/>
<clipPath id="c_r1b5"><path d="M661.22,283.70 L661.02,287.11 L660.44,290.51 L659.46,293.86 L658.12,297.17 L656.40,300.40 L654.33,303.53 L651.92,306.55 L649.19,309.44 L646.16,312.18 L642.85,314.74 L639.30,317.11 L635.51,319.27 L631.54,321.20 L627.39,322.87 L623.12,324.28 L618.74,325.40 L614.29,326.21 L609.81,326.71 L605.33,326.88 L600.89,326.72 L596.51,326.21 L592.23,325.36 L588.09,324.17 L584.11,322.63 L580.33,320.75 L576.77,318.56 L573.46,316.05 L570.43,313.25 L567.70,310.19 L565.29,306.88 L563.22,303.36 L561.51,299.66 L560.16,295.80 L559.19,291.83 L558.60,287.78 L558.41,283.70 L558.60,279.62 L559.19,275.57 L560.16,271.60 L561.51,267.74 L563.22,264.04 L565.29,260.52 L567.70,257.21 L570.43,254.15 L573.46,251.35 L576.77,248.84 L580.33,246.65 L584.11,244.77 L588.09,243.23 L592.23,242.04 L596.51,241.19 L600.89,240.68 L605.33,240.52 L609.81,240.69 L614.29,241.19 L618.74,242.00 L623.12,243.12 L627.39,244.53 L631.54,246.20 L635.51,248.13 L639.30,250.29 L642.85,252.66 L646.16,255.22 L649.19,257.96 L651.92,260.85 L654.33,263.87 L656.40,267.00 L658.12,270.23 L659.46,273.54 L660.44,276.89 L661.02,280.29Z"/></clipPath>
<g clip-path="url(#c_r1b5)">
<rect x="554.4" y="236.7" width="110.8" height="94.0" fill="#939393"/>
<g filter="url(#d_r1b5)" opacity="1">
<ellipse cx="609.8" cy="283.7" rx="28.3" ry="18.9" fill="#eaeaea"/>
<path d="M622.7,283.3 Q638.4,283.9 654.0,286.4 M635.9,282.9 L642.1,275.9 M635.3,282.9 L641.9,277.1 M622.5,285.1 Q636.4,286.3 649.2,291.8 M632.9,286.3 L638.3,293.1 M642.8,287.4 L647.5,296.1 M621.5,287.9 Q635.7,295.1 653.8,296.0 M639.6,294.3 L641.5,303.4 M620.0,289.8 Q631.5,298.0 646.0,303.0 M634.6,298.5 L634.1,307.8 M635.7,299.2 L646.3,297.1 M618.5,291.1 Q629.9,298.9 642.3,305.6 M628.7,299.8 L627.3,308.5 M626.6,298.0 L626.0,306.2 M616.8,292.3 Q624.5,304.2 639.8,311.4 M626.9,304.5 L624.0,313.0 M613.8,293.6 Q620.2,302.6 617.8,314.6 M617.7,303.2 L612.1,311.0 M612.9,293.9 Q617.9,306.4 617.4,320.3 M616.9,307.4 L628.0,310.0 M610.4,294.4 Q608.3,307.0 618.5,318.0 M611.2,309.2 L604.7,315.9 M608.0,294.5 Q605.2,308.1 597.2,321.0 M605.7,307.7 L614.6,313.5 M604.6,293.9 Q601.2,306.5 595.0,318.5 M595.7,311.3 L603.6,319.3 M596.0,310.7 L599.1,318.3 M603.0,293.2 Q592.1,302.6 586.9,315.3 M592.9,307.3 L581.1,307.8 M592.6,307.7 L597.5,316.4 M601.1,292.1 Q588.5,300.7 582.6,314.7 M591.1,301.8 L592.4,310.6 M588.6,304.2 L579.1,305.3 M599.3,290.3 Q587.6,295.6 577.2,302.6 M582.6,300.7 L582.0,310.2 M598.0,288.4 Q586.2,292.9 572.4,292.5 M588.0,292.3 L578.7,288.1 M585.0,293.5 L575.9,290.6 M597.3,286.3 Q584.6,289.0 571.6,290.5 M581.8,289.5 L573.4,283.7 M577.2,290.4 L568.7,285.4 M597.0,282.9 Q581.4,279.0 565.9,275.4 M585.6,282.2 L578.7,277.0 M597.1,281.9 Q580.6,282.9 564.3,281.1 M577.0,279.0 L571.2,271.4 M597.8,279.4 Q586.0,274.9 572.2,276.1 M577.0,272.0 L574.3,262.0 M576.8,271.9 L573.3,262.9 M599.0,277.5 Q583.3,271.4 566.8,267.3 M587.4,270.8 L576.9,274.8 M600.6,275.7 Q591.4,264.6 580.8,254.6 M586.2,263.2 L576.4,263.0 M589.7,266.2 L589.3,257.8 M603.2,274.0 Q592.5,264.7 582.5,255.2 M595.7,263.1 L584.3,262.2 M604.6,273.5 Q601.6,262.3 597.8,251.4 M599.7,263.8 L602.2,256.4 M598.0,260.5 L589.7,256.5 M608.2,272.9 Q606.4,260.5 599.0,248.5 M606.7,262.8 L597.4,257.7 M606.1,258.7 L598.4,253.0 M610.4,273.0 Q610.5,260.0 618.7,248.3 M611.3,255.2 L603.5,248.5 M611.2,257.5 L621.9,253.4 M611.8,273.2 Q614.9,261.3 612.6,248.4 M613.4,264.7 L622.4,260.9 M615.0,274.2 Q621.5,263.0 634.2,254.9 M621.9,261.8 L619.1,254.1 M617.7,275.7 Q629.9,267.0 640.1,256.9 M628.8,264.6 L640.1,265.3 M618.3,276.1 Q624.9,266.6 636.5,260.6 M631.3,264.4 L628.0,254.8 M620.3,278.0 Q633.8,270.7 647.8,264.2 M638.6,268.1 L649.5,271.3 M632.8,271.3 L632.6,262.0 M621.8,280.2 Q633.9,274.1 648.5,272.2 M641.2,274.6 L643.0,264.6 M636.4,276.0 L641.0,269.7 M622.3,281.3 Q634.8,277.9 647.3,274.3 M643.9,277.2 L652.5,280.8" stroke="#eaeaea" stroke-width="2.8" stroke-linecap="round" stroke-linejoin="round" fill="none"/>
<ellipse cx="614.1" cy="283.7" rx="9.1" ry="12.1" fill="#ececec"/>
</g>
<rect x="558.4" y="240.7" width="102.8" height="86.0" filter="url(#s_r1b5)"/>
<path d="M602.7,272.1 Q585.7,283.7 602.7,295.3 Q594.8,283.7 602.7,272.1Z" fill="#050505" filter="url(#soft)"/>
<ellipse cx="609.8" cy="283.7" rx="51.4" ry="43.0" fill="url(#vign)"/>
<line x1="558.4" y1="283.7" x2="661.2" y2="283.7" stroke="#111" stroke-width="0.7" opacity="0.3"/>
<ellipse cx="664.1" cy="283.7" rx="11.4" ry="25.6" fill="#000" opacity="0.9" filter="url(#soft2)"/>
</g>
<path d="M605.1,239.2 L606.8,239.2 L608.5,239.2 L610.2,239.3 L611.9,239.4 L613.5,239.5 L615.2,239.7 L616.9,239.9 L618.6,240.2 L620.3,240.5 L621.9,240.9 L623.6,241.2 L625.2,241.7 L626.8,242.1 L628.4,242.6 L630.0,243.2 L631.6,243.7 L633.2,244.3 L634.7,245.0 L636.2,245.6 L637.7,246.3 L639.2,247.1 L640.6,247.8 L642.1,248.6 L643.5,249.4 L644.8,250.3 L646.1,251.2 L647.4,252.1 L648.7,253.0 L649.9,253.9 L651.1,254.9 L651.1,254.9 L648.2,255.2 L646.2,255.0 L644.5,254.7 L642.8,254.3 L641.3,253.9 L639.8,253.4 L638.4,252.9 L637.0,252.4 L635.7,251.8 L634.3,251.2 L633.0,250.6 L631.7,250.0 L630.5,249.3 L629.2,248.7 L627.9,248.0 L626.5,247.3 L625.2,246.7 L623.8,246.0 L622.4,245.3 L621.0,244.6 L619.6,244.0 L618.1,243.3 L616.6,242.7 L615.0,242.1 L613.5,241.6 L611.9,241.0 L610.2,240.5 L608.6,240.1 L606.9,239.6 L605.1,239.2Z" fill="#cdc099" opacity="0.97"/>
<path d="M651.1,312.5 L649.9,313.5 L648.7,314.4 L647.4,315.3 L646.1,316.2 L644.8,317.1 L643.5,318.0 L642.1,318.8 L640.6,319.6 L639.2,320.3 L637.7,321.1 L636.2,321.8 L634.7,322.4 L633.2,323.1 L631.6,323.7 L630.0,324.2 L628.4,324.8 L626.8,325.3 L625.2,325.7 L623.6,326.2 L621.9,326.5 L620.3,326.9 L618.6,327.2 L616.9,327.5 L615.2,327.7 L613.5,327.9 L611.9,328.0 L610.2,328.1 L608.5,328.2 L606.8,328.2 L605.1,328.2 L605.1,328.2 L606.9,327.8 L608.6,327.3 L610.2,326.9 L611.9,326.4 L613.5,325.8 L615.0,325.3 L616.6,324.7 L618.1,324.1 L619.6,323.4 L621.0,322.8 L622.4,322.1 L623.8,321.4 L625.2,320.7 L626.5,320.1 L627.9,319.4 L629.2,318.7 L630.5,318.1 L631.7,317.4 L633.0,316.8 L634.3,316.2 L635.7,315.6 L637.0,315.0 L638.4,314.5 L639.8,314.0 L641.3,313.5 L642.8,313.1 L644.5,312.7 L646.2,312.4 L648.2,312.2 L651.1,312.5Z" fill="#cdc099" opacity="0.97"/>
<text x="553" y="333.2" font-size="11" fill="#f2f2f2" font-weight="400" text-anchor="start" font-style="normal" >Slice: 70</text>
<rect x="28.1" y="347.2" width="120.7" height="113.4" fill="#000"/>
<path d="M144.10,404.60 L143.90,408.42 L143.29,412.21 L142.29,415.97 L140.90,419.66 L139.12,423.27 L136.99,426.78 L134.50,430.16 L131.68,433.39 L128.55,436.45 L125.13,439.32 L121.46,441.97 L117.55,444.38 L113.44,446.54 L109.16,448.41 L104.74,449.98 L100.22,451.23 L95.63,452.14 L91.00,452.70 L86.37,452.89 L81.78,452.71 L77.26,452.14 L72.84,451.19 L68.56,449.85 L64.45,448.13 L60.54,446.04 L56.87,443.58 L53.45,440.78 L50.32,437.65 L47.50,434.22 L45.01,430.52 L42.88,426.59 L41.10,422.44 L39.71,418.13 L38.71,413.69 L38.10,409.17 L37.90,404.60 L38.10,400.03 L38.71,395.51 L39.71,391.07 L41.10,386.76 L42.88,382.61 L45.01,378.68 L47.50,374.98 L50.32,371.55 L53.45,368.42 L56.87,365.62 L60.54,363.16 L64.45,361.07 L68.56,359.35 L72.84,358.01 L77.26,357.06 L81.78,356.49 L86.37,356.31 L91.00,356.50 L95.63,357.06 L100.22,357.97 L104.74,359.22 L109.16,360.79 L113.44,362.66 L117.55,364.82 L121.46,367.23 L125.13,369.88 L128.55,372.75 L131.68,375.81 L134.50,379.04 L136.99,382.42 L139.12,385.93 L140.90,389.54 L142.29,393.23 L143.29,396.99 L143.90,400.78Z" fill="#000" stroke="#e8e8e8" stroke-width="3.0"/>
<clipPath id="c_r2b1"><path d="M137.19,404.60 L137.01,408.00 L136.45,411.39 L135.53,414.74 L134.25,418.03 L132.62,421.25 L130.65,424.38 L128.36,427.39 L125.77,430.28 L122.89,433.01 L119.76,435.57 L116.38,437.93 L112.79,440.08 L109.01,442.01 L105.07,443.68 L101.01,445.08 L96.86,446.19 L92.63,447.01 L88.38,447.50 L84.12,447.68 L79.90,447.51 L75.75,447.01 L71.68,446.16 L67.75,444.96 L63.97,443.43 L60.38,441.56 L57.00,439.37 L53.86,436.87 L50.99,434.08 L48.39,431.02 L46.11,427.72 L44.14,424.21 L42.51,420.52 L41.23,416.67 L40.31,412.71 L39.75,408.67 L39.57,404.60 L39.75,400.53 L40.31,396.49 L41.23,392.53 L42.51,388.68 L44.14,384.99 L46.11,381.48 L48.39,378.18 L50.99,375.12 L53.86,372.33 L57.00,369.83 L60.38,367.64 L63.97,365.77 L67.75,364.24 L71.68,363.04 L75.75,362.19 L79.90,361.69 L84.12,361.52 L88.38,361.70 L92.63,362.19 L96.86,363.01 L101.01,364.12 L105.07,365.52 L109.01,367.19 L112.79,369.12 L116.38,371.27 L119.76,373.63 L122.89,376.19 L125.77,378.92 L128.36,381.81 L130.65,384.82 L132.62,387.95 L134.25,391.17 L135.53,394.46 L136.45,397.81 L137.01,401.20Z"/></clipPath>
<g clip-path="url(#c_r2b1)">
<rect x="39.6" y="361.7" width="97.6" height="85.8" filter="url(#t_r2b1)"/>
<g filter="url(#d_r2b1)" opacity="0.5">
<ellipse cx="88.4" cy="404.6" rx="18.3" ry="12.9" fill="#9a9a9a"/>
<path d="M100.6,404.6 Q115.8,407.5 131.5,402.2 M100.1,407.2 Q112.8,407.3 124.5,411.4 M115.4,410.6 L119.4,418.5 M99.0,409.5 Q113.4,413.5 125.0,422.1 M115.9,417.2 L125.1,415.0 M97.4,411.3 Q110.9,418.7 121.0,429.5 M107.5,418.8 L117.1,417.8 M94.7,413.4 Q101.6,424.3 107.6,435.8 M102.9,424.8 L101.6,432.5 M100.0,420.8 L99.4,428.2 M92.8,414.3 Q101.3,424.3 104.4,436.8 M97.2,424.1 L106.1,426.8 M97.4,424.6 L94.4,432.2 M89.6,415.2 Q90.7,427.7 97.8,438.9 M91.8,433.3 L85.3,440.3 M91.4,429.7 L84.9,436.6 M87.9,415.4 Q91.0,429.4 82.7,444.1 M87.4,424.5 L92.9,430.3 M86.9,434.6 L80.1,440.8 M83.9,414.9 Q79.1,427.8 69.9,439.2 M78.6,427.2 L85.1,434.7 M80.7,413.4 Q68.9,422.3 67.2,438.0 M67.6,428.2 L55.9,426.9 M79.9,412.8 Q71.2,425.4 54.8,431.7 M69.7,422.7 L70.7,431.5 M77.5,409.9 Q64.2,418.7 45.9,417.9 M60.2,418.4 L59.0,428.8 M64.6,416.2 L55.7,414.0 M76.6,407.6 Q63.3,414.0 48.3,415.3 M61.4,411.4 L58.1,421.5 M55.8,412.8 L47.5,408.3 M76.2,403.9 Q60.0,405.5 44.9,395.3 M62.6,403.2 L56.1,411.5 M76.4,402.2 Q63.3,398.9 50.0,396.6 M64.6,399.8 L56.7,404.7 M60.9,399.1 L56.0,390.9 M77.4,399.6 Q64.6,397.3 57.0,384.8 M65.0,393.9 L56.2,396.5 M60.9,392.1 L52.0,394.7 M79.5,396.7 Q68.5,389.5 63.1,377.3 M82.3,394.9 Q77.5,382.9 73.8,370.7 M75.1,383.2 L65.6,380.9 M83.2,394.5 Q75.0,383.5 71.5,370.7 M77.2,383.0 L80.6,375.3 M75.1,378.9 L78.0,371.3 M87.4,393.8 Q87.2,380.2 90.5,366.9 M86.6,384.0 L79.3,378.1 M86.2,379.9 L93.1,374.2 M89.3,394.0 Q89.7,383.2 93.6,373.0 M90.2,384.1 L83.0,377.5 M90.5,380.8 L99.6,376.7 M92.9,395.0 Q100.0,382.9 99.5,368.0 M100.8,378.3 L112.6,377.4 M96.1,396.8 Q105.4,388.4 109.7,376.6 M97.4,397.9 Q108.5,391.7 119.4,385.4 M106.8,390.8 L116.4,391.6 M99.1,399.8 Q111.3,393.1 121.5,383.9 M113.1,393.5 L116.0,386.2 M100.0,401.5 Q113.3,399.7 124.7,393.0" stroke="#9a9a9a" stroke-width="2.0" stroke-linecap="round" stroke-linejoin="round" fill="none"/>
<ellipse cx="93.2" cy="404.6" rx="8.7" ry="12.9" fill="#a8a8a8"/>
</g>
<path d="M82.3,392.2 Q65.9,404.6 82.3,417.0 Q74.6,404.6 82.3,392.2Z" fill="#050505" filter="url(#soft)"/>
<ellipse cx="88.4" cy="404.6" rx="48.8" ry="42.9" fill="url(#vign)"/>
<line x1="39.6" y1="404.6" x2="137.2" y2="404.6" stroke="#111" stroke-width="0.7" opacity="0.3"/>
<ellipse cx="141.2" cy="404.6" rx="10.9" ry="27.3" fill="#000" opacity="0.9" filter="url(#soft2)"/>
</g>
<path d="M84.7,357.5 L86.3,357.5 L87.9,357.5 L89.5,357.6 L91.1,357.7 L92.7,357.9 L94.3,358.1 L95.9,358.3 L97.4,358.6 L99.0,358.9 L100.6,359.3 L102.2,359.7 L103.7,360.1 L105.3,360.6 L106.8,361.2 L108.3,361.7 L109.8,362.3 L111.3,363.0 L112.8,363.6 L114.2,364.3 L115.6,365.1 L117.0,365.9 L118.4,366.7 L119.7,367.5 L121.1,368.4 L122.4,369.3 L123.6,370.2 L124.8,371.1 L126.0,372.1 L127.2,373.1 L128.3,374.1 L128.3,374.1 L125.6,374.5 L123.7,374.3 L122.0,373.9 L120.4,373.5 L119.0,373.1 L117.6,372.6 L116.2,372.1 L114.9,371.5 L113.6,370.9 L112.4,370.3 L111.1,369.7 L109.9,369.0 L108.7,368.3 L107.5,367.6 L106.2,366.9 L105.0,366.2 L103.7,365.5 L102.4,364.7 L101.1,364.0 L99.8,363.3 L98.4,362.6 L97.0,361.9 L95.5,361.3 L94.1,360.7 L92.6,360.1 L91.1,359.5 L89.5,358.9 L87.9,358.4 L86.3,358.0 L84.7,357.5Z" fill="#cdc099" opacity="0.97"/>
<path d="M128.3,435.1 L127.2,436.1 L126.0,437.1 L124.8,438.1 L123.6,439.0 L122.4,439.9 L121.1,440.8 L119.7,441.7 L118.4,442.5 L117.0,443.3 L115.6,444.1 L114.2,444.9 L112.8,445.6 L111.3,446.2 L109.8,446.9 L108.3,447.5 L106.8,448.0 L105.3,448.6 L103.7,449.1 L102.2,449.5 L100.6,449.9 L99.0,450.3 L97.4,450.6 L95.9,450.9 L94.3,451.1 L92.7,451.3 L91.1,451.5 L89.5,451.6 L87.9,451.7 L86.3,451.7 L84.7,451.7 L84.7,451.7 L86.3,451.2 L87.9,450.8 L89.5,450.3 L91.1,449.7 L92.6,449.1 L94.1,448.5 L95.5,447.9 L97.0,447.3 L98.4,446.6 L99.8,445.9 L101.1,445.2 L102.4,444.5 L103.7,443.7 L105.0,443.0 L106.2,442.3 L107.5,441.6 L108.7,440.9 L109.9,440.2 L111.1,439.5 L112.4,438.9 L113.6,438.3 L114.9,437.7 L116.2,437.1 L117.6,436.6 L119.0,436.1 L120.4,435.7 L122.0,435.3 L123.7,434.9 L125.6,434.7 L128.3,435.1Z" fill="#cdc099" opacity="0.97"/>
<text x="29.8" y="458.7" font-size="11" fill="#f2f2f2" font-weight="400" text-anchor="start" font-style="normal" >Slice: 69</text>
<rect x="158.8" y="348.0" width="120.3" height="111.7" fill="#000"/>
<path d="M275.40,404.80 L275.19,408.54 L274.56,412.27 L273.51,415.95 L272.06,419.58 L270.21,423.12 L267.98,426.56 L265.38,429.88 L262.44,433.05 L259.17,436.05 L255.61,438.87 L251.78,441.47 L247.70,443.84 L243.41,445.95 L238.95,447.79 L234.34,449.33 L229.62,450.56 L224.83,451.45 L220.00,452.00 L215.17,452.19 L210.38,452.01 L205.66,451.45 L201.05,450.52 L196.59,449.20 L192.30,447.52 L188.22,445.46 L184.39,443.05 L180.83,440.30 L177.56,437.23 L174.62,433.87 L172.02,430.24 L169.79,426.37 L167.94,422.31 L166.49,418.08 L165.44,413.72 L164.81,409.28 L164.60,404.80 L164.81,400.32 L165.44,395.88 L166.49,391.52 L167.94,387.29 L169.79,383.23 L172.02,379.36 L174.62,375.73 L177.56,372.37 L180.83,369.30 L184.39,366.55 L188.22,364.14 L192.30,362.08 L196.59,360.40 L201.05,359.08 L205.66,358.15 L210.38,357.59 L215.17,357.41 L220.00,357.60 L224.83,358.15 L229.62,359.04 L234.34,360.27 L238.95,361.81 L243.41,363.65 L247.70,365.76 L251.78,368.13 L255.61,370.73 L259.17,373.55 L262.44,376.55 L265.38,379.72 L267.98,383.04 L270.21,386.48 L272.06,390.02 L273.51,393.65 L274.56,397.33 L275.19,401.06Z" fill="#000" stroke="#b4b4b4" stroke-width="2.8"/>
<clipPath id="c_r2b2"><path d="M264.02,404.80 L263.84,408.14 L263.30,411.45 L262.41,414.73 L261.18,417.96 L259.60,421.12 L257.70,424.18 L255.49,427.13 L252.99,429.96 L250.21,432.63 L247.18,435.14 L243.92,437.46 L240.45,439.57 L236.80,441.45 L233.00,443.09 L229.08,444.46 L225.06,445.55 L220.98,446.35 L216.88,446.84 L212.77,447.01 L208.69,446.85 L204.67,446.35 L200.75,445.52 L196.95,444.35 L193.30,442.85 L189.84,441.01 L186.57,438.87 L183.54,436.42 L180.76,433.69 L178.26,430.69 L176.05,427.46 L174.15,424.02 L172.58,420.39 L171.34,416.63 L170.45,412.75 L169.91,408.79 L169.73,404.80 L169.91,400.81 L170.45,396.85 L171.34,392.97 L172.58,389.21 L174.15,385.58 L176.05,382.14 L178.26,378.91 L180.76,375.91 L183.54,373.18 L186.57,370.73 L189.84,368.59 L193.30,366.75 L196.95,365.25 L200.75,364.08 L204.67,363.25 L208.69,362.75 L212.77,362.59 L216.88,362.76 L220.98,363.25 L225.06,364.05 L229.08,365.14 L233.00,366.51 L236.80,368.15 L240.45,370.03 L243.92,372.14 L247.18,374.46 L250.21,376.97 L252.99,379.64 L255.49,382.47 L257.70,385.42 L259.60,388.48 L261.18,391.64 L262.41,394.87 L263.30,398.15 L263.84,401.46Z"/></clipPath>
<g clip-path="url(#c_r2b2)">
<rect x="165.7" y="358.8" width="102.3" height="92.1" fill="#949494"/>
<g filter="url(#d_r2b2)" opacity="1">
<ellipse cx="216.9" cy="404.8" rx="30.6" ry="21.9" fill="#f2f2f2"/>
<path d="M228.7,405.1 Q243.5,405.6 258.4,406.0 M249.8,405.6 L255.6,413.2 M239.3,405.4 L245.7,410.2 M228.5,406.3 Q240.5,406.9 252.5,407.4 M240.2,407.8 L247.3,402.0 M243.1,408.2 L250.4,402.1 M227.8,408.4 Q238.4,413.1 248.8,418.0 M243.8,413.5 L246.5,421.7 M238.3,411.8 L242.4,418.1 M226.6,410.3 Q237.4,418.6 251.7,422.7 M240.5,418.1 L250.1,415.4 M243.8,419.9 L243.7,429.2 M225.2,411.8 Q235.8,420.7 247.1,429.0 M233.3,418.7 L242.0,419.0 M235.0,420.0 L244.8,418.9 M223.2,413.3 Q231.6,424.3 240.4,435.2 M229.3,421.5 L227.8,429.2 M228.5,420.4 L236.7,422.3 M220.5,414.5 Q224.8,425.4 229.1,436.4 M226.8,431.6 L236.6,434.0 M223.7,423.1 L231.5,426.4 M218.4,415.1 Q222.5,427.8 222.7,441.4 M217.0,415.3 Q219.9,428.8 211.8,443.2 M217.2,426.7 L224.4,431.7 M217.3,433.8 L224.8,438.8 M214.9,415.3 Q214.5,425.8 206.9,435.6 M212.8,426.8 L204.1,431.7 M212.8,427.1 L204.7,432.2 M212.0,414.7 Q207.1,427.5 196.6,438.1 M204.8,429.0 L194.1,430.9 M209.7,413.6 Q204.7,424.4 191.1,429.7 M199.7,425.8 L201.1,434.0 M201.3,424.0 L192.2,425.4 M209.0,413.1 Q199.8,424.5 186.4,432.5 M197.5,425.2 L187.8,425.2 M199.9,422.7 L190.6,423.1 M207.1,411.1 Q197.1,421.5 184.9,429.4 M197.1,417.7 L197.0,427.2 M192.8,420.4 L192.8,430.2 M206.0,409.1 Q191.6,414.1 180.8,426.0 M190.6,415.2 L187.8,424.4 M196.9,412.7 L192.7,419.5 M205.4,407.4 Q191.8,411.0 179.9,419.2 M190.0,411.0 L185.4,418.9 M205.1,404.4 Q192.4,405.1 180.4,398.4 M190.4,404.0 L184.0,398.5 M205.3,402.7 Q190.1,399.1 174.5,397.2 M192.8,400.4 L188.5,391.3 M189.9,399.9 L182.4,406.2 M206.1,400.2 Q192.4,397.2 180.2,390.4 M190.1,393.2 L181.6,396.3 M191.0,393.6 L182.4,397.0 M207.0,398.7 Q195.5,390.9 187.5,379.1 M196.6,392.3 L188.0,393.6 M191.7,389.3 L190.1,380.5 M208.5,396.9 Q196.1,388.8 184.1,380.2 M195.2,384.5 L198.2,374.5 M211.2,395.2 Q203.2,385.9 194.4,377.2 M206.2,386.8 L197.5,384.2 M211.5,395.0 Q208.2,384.7 203.1,374.9 M202.0,377.6 L209.1,369.3 M204.0,381.3 L194.8,378.6 M213.9,394.4 Q210.3,381.8 203.5,369.9 M211.3,385.0 L205.0,379.8 M209.4,378.2 L214.8,371.5 M216.3,394.3 Q212.6,382.1 221.6,370.6 M215.4,379.5 L208.8,373.5 M219.4,394.7 Q222.4,384.3 228.3,374.9 M221.8,385.7 L229.5,381.9 M222.0,384.6 L215.1,377.3 M221.4,395.4 Q224.5,384.3 231.8,374.9 M227.8,382.4 L221.4,374.0 M222.6,396.0 Q227.6,386.0 237.2,378.5 M231.2,383.0 L226.5,374.2 M232.5,380.9 L243.2,380.5 M225.2,397.9 Q236.5,389.1 250.9,383.8 M238.8,386.7 L247.9,386.8 M239.0,386.4 L248.3,386.8 M226.9,399.7 Q237.0,392.6 251.8,392.2 M235.7,395.2 L244.7,397.4 M238.6,393.7 L240.2,385.8 M228.1,401.8 Q240.1,396.4 254.1,395.3 M244.4,397.4 L248.2,390.1 M228.3,402.4 Q241.0,401.3 253.7,400.5 M243.0,399.2 L250.9,405.3" stroke="#f2f2f2" stroke-width="3.3" stroke-linecap="round" stroke-linejoin="round" fill="none"/>
<ellipse cx="222.3" cy="404.8" rx="9.1" ry="12.6" fill="#f6f6f6"/>
</g>
<rect x="169.7" y="362.8" width="94.3" height="84.1" filter="url(#s_r2b2)"/>
<path d="M210.9,392.7 Q193.9,404.8 210.9,416.9 Q203.0,404.8 210.9,392.7Z" fill="#050505" filter="url(#soft)"/>
<ellipse cx="216.9" cy="404.8" rx="47.1" ry="42.0" fill="url(#vign)"/>
<line x1="169.7" y1="404.8" x2="264.0" y2="404.8" stroke="#111" stroke-width="0.7" opacity="0.3"/>
<ellipse cx="272.3" cy="404.8" rx="11.4" ry="26.7" fill="#000" opacity="0.9" filter="url(#soft2)"/>
</g>
<path d="M213.4,358.6 L215.0,358.5 L216.7,358.6 L218.4,358.6 L220.1,358.7 L221.7,358.9 L223.4,359.1 L225.1,359.3 L226.7,359.6 L228.4,359.9 L230.0,360.3 L231.7,360.7 L233.3,361.1 L234.9,361.6 L236.5,362.1 L238.1,362.7 L239.7,363.3 L241.2,363.9 L242.8,364.5 L244.3,365.2 L245.8,366.0 L247.2,366.7 L248.7,367.5 L250.1,368.3 L251.4,369.2 L252.8,370.1 L254.1,371.0 L255.4,371.9 L256.6,372.9 L257.9,373.9 L259.0,374.9 L259.0,374.9 L256.2,375.2 L254.2,375.0 L252.4,374.7 L250.8,374.3 L249.3,373.8 L247.8,373.3 L246.4,372.8 L245.0,372.3 L243.7,371.7 L242.4,371.1 L241.1,370.5 L239.8,369.8 L238.5,369.1 L237.2,368.4 L235.9,367.7 L234.6,367.0 L233.3,366.3 L231.9,365.6 L230.6,364.9 L229.2,364.2 L227.7,363.5 L226.3,362.9 L224.8,362.2 L223.2,361.6 L221.7,361.0 L220.1,360.5 L218.4,359.9 L216.8,359.5 L215.1,359.0 L213.4,358.6Z" fill="#cdc099" opacity="0.97"/>
<path d="M259.0,434.7 L257.9,435.7 L256.6,436.7 L255.4,437.7 L254.1,438.6 L252.8,439.5 L251.4,440.4 L250.1,441.3 L248.7,442.1 L247.2,442.9 L245.8,443.6 L244.3,444.4 L242.8,445.1 L241.2,445.7 L239.7,446.3 L238.1,446.9 L236.5,447.5 L234.9,448.0 L233.3,448.5 L231.7,448.9 L230.0,449.3 L228.4,449.7 L226.7,450.0 L225.1,450.3 L223.4,450.5 L221.7,450.7 L220.1,450.9 L218.4,451.0 L216.7,451.0 L215.0,451.1 L213.4,451.0 L213.4,451.0 L215.1,450.6 L216.8,450.1 L218.4,449.7 L220.1,449.1 L221.7,448.6 L223.2,448.0 L224.8,447.4 L226.3,446.7 L227.7,446.1 L229.2,445.4 L230.6,444.7 L231.9,444.0 L233.3,443.3 L234.6,442.6 L235.9,441.9 L237.2,441.2 L238.5,440.5 L239.8,439.8 L241.1,439.1 L242.4,438.5 L243.7,437.9 L245.0,437.3 L246.4,436.8 L247.8,436.3 L249.3,435.8 L250.8,435.3 L252.4,434.9 L254.2,434.6 L256.2,434.4 L259.0,434.7Z" fill="#cdc099" opacity="0.97"/>
<text x="160.7" y="459" font-size="11" fill="#f2f2f2" font-weight="400" text-anchor="start" font-style="normal" >Slice: 76</text>
<rect x="289.5" y="348.2" width="120.4" height="111.4" fill="#000"/>
<path d="M403.30,405.80 L403.09,409.38 L402.48,412.94 L401.46,416.46 L400.05,419.92 L398.25,423.31 L396.08,426.59 L393.55,429.76 L390.69,432.79 L387.51,435.66 L384.05,438.35 L380.32,440.84 L376.35,443.10 L372.18,445.12 L367.83,446.88 L363.35,448.35 L358.76,449.52 L354.10,450.38 L349.40,450.90 L344.70,451.08 L340.04,450.91 L335.45,450.38 L330.97,449.48 L326.62,448.23 L322.45,446.62 L318.48,444.65 L314.75,442.35 L311.29,439.72 L308.11,436.79 L305.25,433.58 L302.72,430.11 L300.55,426.41 L298.75,422.53 L297.34,418.49 L296.32,414.33 L295.71,410.08 L295.50,405.80 L295.71,401.52 L296.32,397.27 L297.34,393.11 L298.75,389.07 L300.55,385.19 L302.72,381.49 L305.25,378.02 L308.11,374.81 L311.29,371.88 L314.75,369.25 L318.48,366.95 L322.45,364.98 L326.62,363.37 L330.97,362.12 L335.45,361.22 L340.04,360.69 L344.70,360.52 L349.40,360.70 L354.10,361.22 L358.76,362.08 L363.35,363.25 L367.83,364.72 L372.18,366.48 L376.35,368.50 L380.32,370.76 L384.05,373.25 L387.51,375.94 L390.69,378.81 L393.55,381.84 L396.08,385.01 L398.25,388.29 L400.05,391.68 L401.46,395.14 L402.48,398.66 L403.09,402.22Z" fill="#000" stroke="#eaeaea" stroke-width="2.8"/>
<clipPath id="c_r2b3"><path d="M398.17,405.80 L397.99,409.05 L397.42,412.28 L396.48,415.47 L395.17,418.61 L393.51,421.68 L391.51,424.67 L389.17,427.54 L386.53,430.29 L383.60,432.89 L380.40,435.33 L376.95,437.59 L373.29,439.64 L369.44,441.48 L365.43,443.07 L361.29,444.40 L357.05,445.47 L352.74,446.24 L348.40,446.72 L344.07,446.88 L339.76,446.73 L335.52,446.25 L331.38,445.44 L327.37,444.30 L323.52,442.83 L319.86,441.05 L316.41,438.96 L313.21,436.58 L310.28,433.92 L307.64,431.00 L305.30,427.85 L303.30,424.50 L301.64,420.98 L300.33,417.31 L299.39,413.54 L298.82,409.69 L298.63,405.80 L298.82,401.91 L299.39,398.06 L300.33,394.29 L301.64,390.62 L303.30,387.10 L305.30,383.75 L307.64,380.60 L310.28,377.68 L313.21,375.02 L316.41,372.64 L319.86,370.55 L323.52,368.77 L327.37,367.30 L331.38,366.16 L335.52,365.35 L339.76,364.87 L344.07,364.72 L348.40,364.88 L352.74,365.36 L357.05,366.13 L361.29,367.20 L365.43,368.53 L369.44,370.12 L373.29,371.96 L376.95,374.01 L380.40,376.27 L383.60,378.71 L386.53,381.31 L389.17,384.06 L391.51,386.93 L393.51,389.92 L395.17,392.99 L396.48,396.13 L397.42,399.32 L397.99,402.55Z"/></clipPath>
<g clip-path="url(#c_r2b3)">
<rect x="294.6" y="360.9" width="107.5" height="89.8" fill="#929292"/>
<g filter="url(#d_r2b3)" opacity="1">
<ellipse cx="348.4" cy="405.8" rx="27.4" ry="18.0" fill="#e8e8e8"/>
<path d="M360.8,406.5 Q376.8,409.8 393.6,403.4 M376.0,407.3 L382.5,412.3 M376.3,407.3 L383.4,401.6 M360.4,408.3 Q371.5,413.2 384.9,413.3 M377.5,411.8 L382.0,418.6 M379.4,412.2 L383.1,420.3 M359.8,409.6 Q375.4,413.8 388.3,422.5 M375.4,414.8 L378.0,422.7 M359.1,410.6 Q370.3,417.6 382.5,423.3 M376.3,418.3 L376.9,427.2 M373.9,417.2 L383.1,415.7 M357.9,412.0 Q367.8,419.0 375.3,427.9 M369.0,419.2 L369.1,427.3 M355.4,413.8 Q364.8,421.0 368.8,431.6 M366.6,426.6 L364.3,434.7 M367.4,427.6 L380.0,426.2 M353.8,414.6 Q364.2,424.8 369.4,437.6 M362.6,428.9 L374.9,428.9 M349.9,415.9 Q347.9,428.1 349.7,439.9 M352.5,433.7 L344.3,440.5 M351.4,426.5 L360.3,430.4 M348.5,416.0 Q351.5,426.8 347.9,438.3 M348.6,431.3 L355.9,436.3 M348.6,433.4 L338.5,439.3 M345.6,416.0 Q345.0,427.6 337.8,438.7 M340.8,433.9 L348.4,440.2 M343.8,415.6 Q336.4,425.5 332.4,436.6 M338.8,426.3 L343.6,433.3 M337.5,429.0 L328.6,432.6 M340.7,414.3 Q332.6,422.6 324.7,431.1 M330.2,425.8 L319.0,425.4 M340.0,413.8 Q333.4,424.3 317.1,427.5 M326.5,426.5 L327.0,434.7 M338.1,412.0 Q328.4,421.1 313.3,423.9 M322.8,421.2 L322.2,430.3 M320.7,422.5 L319.3,431.1 M337.3,410.8 Q323.3,418.0 312.4,429.3 M323.9,416.9 L314.6,413.9 M336.3,408.4 Q321.2,414.1 306.7,421.3 M317.5,412.4 L309.1,406.3 M336.0,405.4 Q322.3,402.4 309.0,398.5 M321.4,405.0 L315.6,396.4 M316.4,404.8 L310.0,413.8 M336.1,404.1 Q320.1,403.7 306.2,393.2 M325.7,402.6 L318.0,406.8 M324.5,402.5 L316.7,406.5 M336.9,401.5 Q322.7,397.3 312.7,385.8 M319.7,395.2 L310.9,397.9 M319.2,395.0 L310.2,398.1 M338.3,399.4 Q324.0,392.2 315.6,378.6 M322.1,389.2 L311.2,393.2 M324.2,390.5 L322.0,382.9 M339.4,398.3 Q328.7,391.8 325.3,379.4 M341.0,397.1 Q335.0,385.4 325.3,375.4 M333.4,388.3 L335.0,380.5 M328.0,381.9 L317.4,381.3 M344.6,395.8 Q343.5,384.4 336.3,373.9 M340.8,385.7 L333.1,381.3 M341.4,387.2 L346.5,380.6 M345.9,395.6 Q346.4,384.9 339.0,374.6 M343.2,384.4 L335.1,379.6 M348.1,395.6 Q344.2,383.7 353.2,372.4 M347.7,379.0 L336.9,373.5 M351.2,396.0 Q351.1,384.3 362.1,375.3 M354.4,384.5 L347.6,377.3 M354.4,384.8 L363.9,381.7 M352.4,396.4 Q359.7,384.6 367.8,373.1 M358.7,381.8 L353.2,374.2 M359.6,379.7 L368.6,376.8 M354.4,397.2 Q359.5,386.3 370.3,378.2 M356.9,398.8 Q367.0,389.8 382.1,385.2 M366.6,390.8 L366.8,383.3 M358.9,400.8 Q372.5,394.8 381.6,383.8 M377.2,392.1 L388.1,397.1 M359.6,401.6 Q372.1,394.0 384.7,386.6 M360.8,404.7 Q375.7,403.5 390.1,399.6 M382.9,402.8 L387.6,394.0 M379.7,403.1 L385.0,395.6" stroke="#e8e8e8" stroke-width="2.9" stroke-linecap="round" stroke-linejoin="round" fill="none"/>
<ellipse cx="351.6" cy="405.8" rx="8.8" ry="12.1" fill="#eaeaea"/>
</g>
<rect x="298.6" y="364.9" width="99.5" height="81.8" filter="url(#s_r2b3)"/>
<path d="M340.6,394.2 Q324.0,405.8 340.6,417.4 Q332.8,405.8 340.6,394.2Z" fill="#050505" filter="url(#soft)"/>
<ellipse cx="348.4" cy="405.8" rx="49.8" ry="40.9" fill="url(#vign)"/>
<line x1="298.6" y1="405.8" x2="398.2" y2="405.8" stroke="#111" stroke-width="0.7" opacity="0.3"/>
<ellipse cx="400.3" cy="405.8" rx="11.1" ry="25.6" fill="#000" opacity="0.9" filter="url(#soft2)"/>
</g>
<path d="M343.0,361.7 L344.6,361.6 L346.2,361.7 L347.8,361.7 L349.5,361.8 L351.1,362.0 L352.7,362.2 L354.3,362.4 L356.0,362.6 L357.6,363.0 L359.2,363.3 L360.8,363.7 L362.3,364.1 L363.9,364.6 L365.5,365.1 L367.0,365.6 L368.5,366.2 L370.1,366.8 L371.5,367.4 L373.0,368.0 L374.4,368.7 L375.9,369.5 L377.3,370.2 L378.6,371.0 L380.0,371.8 L381.3,372.7 L382.6,373.5 L383.8,374.4 L385.0,375.3 L386.2,376.3 L387.4,377.2 L387.4,377.2 L384.6,377.6 L382.6,377.4 L380.9,377.0 L379.3,376.7 L377.8,376.2 L376.4,375.8 L375.0,375.3 L373.7,374.8 L372.4,374.2 L371.1,373.6 L369.9,373.0 L368.6,372.4 L367.4,371.8 L366.1,371.1 L364.9,370.4 L363.6,369.8 L362.3,369.1 L361.0,368.4 L359.7,367.7 L358.3,367.1 L356.9,366.4 L355.5,365.8 L354.0,365.2 L352.5,364.6 L351.0,364.0 L349.5,363.5 L347.9,363.0 L346.3,362.5 L344.6,362.1 L343.0,361.7Z" fill="#cdc099" opacity="0.97"/>
<path d="M387.4,434.4 L386.2,435.3 L385.0,436.3 L383.8,437.2 L382.6,438.1 L381.3,438.9 L380.0,439.8 L378.6,440.6 L377.3,441.4 L375.9,442.1 L374.4,442.9 L373.0,443.6 L371.5,444.2 L370.1,444.8 L368.5,445.4 L367.0,446.0 L365.5,446.5 L363.9,447.0 L362.3,447.5 L360.8,447.9 L359.2,448.3 L357.6,448.6 L356.0,449.0 L354.3,449.2 L352.7,449.4 L351.1,449.6 L349.5,449.8 L347.8,449.9 L346.2,449.9 L344.6,450.0 L343.0,449.9 L343.0,449.9 L344.6,449.5 L346.3,449.1 L347.9,448.6 L349.5,448.1 L351.0,447.6 L352.5,447.0 L354.0,446.4 L355.5,445.8 L356.9,445.2 L358.3,444.5 L359.7,443.9 L361.0,443.2 L362.3,442.5 L363.6,441.8 L364.9,441.2 L366.1,440.5 L367.4,439.8 L368.6,439.2 L369.9,438.6 L371.1,438.0 L372.4,437.4 L373.7,436.8 L375.0,436.3 L376.4,435.8 L377.8,435.4 L379.3,434.9 L380.9,434.6 L382.6,434.2 L384.6,434.0 L387.4,434.4Z" fill="#cdc099" opacity="0.97"/>
<text x="290.7" y="458.7" font-size="11" fill="#f2f2f2" font-weight="400" text-anchor="start" font-style="normal" >Slice: 76</text>
<rect x="420.1" y="347.1" width="120.7" height="113.5" fill="#000"/>
<path d="M537.30,405.30 L537.09,408.97 L536.44,412.63 L535.38,416.24 L533.90,419.80 L532.03,423.27 L529.76,426.65 L527.12,429.90 L524.13,433.01 L520.81,435.96 L517.19,438.72 L513.29,441.27 L509.15,443.59 L504.79,445.67 L500.26,447.47 L495.57,448.98 L490.78,450.18 L485.91,451.06 L481.00,451.60 L476.09,451.79 L471.22,451.61 L466.43,451.06 L461.74,450.15 L457.21,448.86 L452.85,447.20 L448.71,445.18 L444.81,442.82 L441.19,440.12 L437.87,437.11 L434.88,433.81 L432.24,430.25 L429.97,426.46 L428.10,422.47 L426.62,418.33 L425.56,414.05 L424.91,409.70 L424.70,405.30 L424.91,400.90 L425.56,396.55 L426.62,392.27 L428.10,388.13 L429.97,384.14 L432.24,380.35 L434.88,376.79 L437.87,373.49 L441.19,370.48 L444.81,367.78 L448.71,365.42 L452.85,363.40 L457.21,361.74 L461.74,360.45 L466.43,359.54 L471.22,358.99 L476.09,358.81 L481.00,359.00 L485.91,359.54 L490.78,360.42 L495.57,361.62 L500.26,363.13 L504.79,364.93 L509.15,367.01 L513.29,369.33 L517.19,371.88 L520.81,374.64 L524.13,377.59 L527.12,380.70 L529.76,383.95 L532.03,387.33 L533.90,390.80 L535.38,394.36 L536.44,397.97 L537.09,401.63Z" fill="#000" stroke="#f0f0f0" stroke-width="3.0"/>
<clipPath id="c_r2b4"><path d="M533.31,405.30 L533.11,408.68 L532.51,412.03 L531.51,415.35 L530.12,418.62 L528.35,421.81 L526.22,424.91 L523.74,427.90 L520.94,430.76 L517.82,433.47 L514.42,436.00 L510.76,438.35 L506.87,440.48 L502.77,442.39 L498.51,444.05 L494.11,445.44 L489.61,446.54 L485.03,447.35 L480.42,447.84 L475.81,448.01 L471.24,447.85 L466.73,447.35 L462.33,446.51 L458.07,445.32 L453.98,443.80 L450.09,441.95 L446.43,439.77 L443.03,437.30 L439.91,434.53 L437.10,431.50 L434.62,428.23 L432.49,424.75 L430.72,421.08 L429.34,417.27 L428.34,413.34 L427.74,409.34 L427.54,405.30 L427.74,401.26 L428.34,397.26 L429.34,393.33 L430.72,389.52 L432.49,385.85 L434.62,382.37 L437.10,379.10 L439.91,376.07 L443.03,373.30 L446.43,370.83 L450.09,368.65 L453.98,366.80 L458.07,365.28 L462.33,364.09 L466.73,363.25 L471.24,362.75 L475.81,362.59 L480.42,362.76 L485.03,363.25 L489.61,364.06 L494.11,365.16 L498.51,366.55 L502.77,368.21 L506.87,370.12 L510.76,372.25 L514.42,374.60 L517.82,377.13 L520.94,379.84 L523.74,382.70 L526.22,385.69 L528.35,388.79 L530.12,391.98 L531.51,395.25 L532.51,398.57 L533.11,401.92Z"/></clipPath>
<g clip-path="url(#c_r2b4)">
<rect x="427.5" y="362.8" width="105.8" height="85.1" filter="url(#t_r2b4)"/>
<g filter="url(#d_r2b4)" opacity="0.35">
<path d="M493.6,405.4 Q508.1,407.4 522.8,403.3 M508.8,405.5 L516.2,409.7 M515.4,405.5 L522.1,397.6 M493.3,407.4 Q507.4,412.1 523.2,412.6 M516.3,411.0 L525.1,405.4 M491.7,410.5 Q505.6,417.4 522.5,420.3 M504.0,416.2 L514.5,413.0 M489.1,412.8 Q499.2,419.8 509.2,426.8 M503.2,425.0 L515.4,423.4 M485.1,414.9 Q492.9,426.6 494.2,440.8 M489.6,424.2 L485.4,431.9 M481.3,415.8 Q483.8,428.5 477.5,442.0 M482.9,434.5 L493.8,438.5 M482.7,432.3 L472.0,438.8 M477.6,415.9 Q477.3,427.0 466.2,436.7 M474.5,415.2 Q468.4,428.0 466.9,441.9 M464.4,431.8 L469.8,439.9 M468.7,424.8 L459.3,428.0 M472.5,414.3 Q464.4,426.4 459.5,439.7 M460.4,428.2 L464.2,437.1 M464.5,423.5 L466.8,431.9 M468.9,410.9 Q457.1,417.7 441.8,418.5 M450.4,419.7 L440.2,416.6 M467.6,408.2 Q452.6,414.9 436.1,417.9 M446.0,413.1 L437.0,407.1 M456.7,410.7 L448.0,406.3 M467.2,404.5 Q451.1,404.3 435.1,407.4 M450.5,403.5 L442.8,409.5 M468.0,401.3 Q453.2,398.5 438.6,395.4 M450.1,395.4 L445.7,387.5 M468.8,399.9 Q453.1,396.2 440.9,386.3 M455.8,393.9 L445.4,398.5 M471.3,397.1 Q460.0,389.8 455.9,377.2 M462.2,388.9 L462.0,380.8 M462.7,389.3 L451.7,390.0 M474.4,395.5 Q468.9,384.7 458.4,375.9 M467.2,383.7 L469.8,376.1 M468.5,386.0 L458.3,383.5 M477.6,394.7 Q470.7,381.8 476.6,367.5 M475.2,385.8 L481.5,379.4 M475.1,385.5 L466.2,380.8 M483.1,395.1 Q487.8,384.3 487.8,372.3 M487.0,379.9 L498.9,377.2 M487.1,379.8 L495.4,375.7 M486.0,396.0 Q492.9,384.6 498.8,372.8 M491.6,386.6 L502.0,384.9 M491.6,386.6 L500.9,384.2 M489.1,397.8 Q498.2,386.8 516.4,382.6 M499.1,389.0 L509.8,389.2 M498.3,389.8 L495.9,381.0 M491.8,400.3 Q504.4,395.6 515.9,389.4 M509.7,392.5 L509.7,382.6 M502.6,395.6 L512.9,398.9 M493.2,402.7 Q508.0,398.6 524.1,397.6 M506.5,400.0 L512.1,394.2 M507.2,399.8 L512.2,393.2" stroke="#9a9a9a" stroke-width="1.4" stroke-linecap="round" stroke-linejoin="round" fill="none"/>
</g>
<g fill="#cacaca" filter="url(#soft2)"><circle cx="473.8" cy="400.0" r="4.6"/><circle cx="482.7" cy="400.0" r="4.6"/><circle cx="473.8" cy="410.1" r="4.6"/><circle cx="482.7" cy="410.1" r="4.6"/></g>
<ellipse cx="480.4" cy="405.3" rx="52.9" ry="42.5" fill="url(#vign)"/>
<line x1="427.5" y1="405.3" x2="533.3" y2="405.3" stroke="#111" stroke-width="0.7" opacity="0.3"/>
<ellipse cx="534.2" cy="405.3" rx="11.6" ry="26.3" fill="#000" opacity="0.9" filter="url(#soft2)"/>
</g>
<path d="M474.3,360.0 L476.0,360.0 L477.7,360.0 L479.4,360.1 L481.1,360.2 L482.8,360.4 L484.5,360.5 L486.2,360.8 L487.8,361.0 L489.5,361.4 L491.2,361.7 L492.9,362.1 L494.5,362.5 L496.2,363.0 L497.8,363.5 L499.4,364.1 L501.0,364.6 L502.6,365.3 L504.1,365.9 L505.6,366.6 L507.2,367.3 L508.6,368.0 L510.1,368.8 L511.5,369.6 L512.9,370.5 L514.3,371.3 L515.6,372.2 L516.9,373.1 L518.2,374.1 L519.4,375.0 L520.6,376.0 L520.6,376.0 L517.7,376.4 L515.7,376.2 L513.9,375.8 L512.3,375.4 L510.7,375.0 L509.2,374.5 L507.8,374.0 L506.4,373.5 L505.0,372.9 L503.7,372.3 L502.4,371.7 L501.1,371.1 L499.8,370.4 L498.5,369.7 L497.2,369.1 L495.8,368.4 L494.5,367.7 L493.1,367.0 L491.7,366.3 L490.3,365.6 L488.8,364.9 L487.3,364.3 L485.8,363.6 L484.3,363.0 L482.7,362.5 L481.1,361.9 L479.4,361.4 L477.7,360.9 L476.0,360.5 L474.3,360.0Z" fill="#cdc099" opacity="0.97"/>
<path d="M520.6,434.6 L519.4,435.6 L518.2,436.5 L516.9,437.5 L515.6,438.4 L514.3,439.3 L512.9,440.1 L511.5,441.0 L510.1,441.8 L508.6,442.6 L507.2,443.3 L505.6,444.0 L504.1,444.7 L502.6,445.3 L501.0,446.0 L499.4,446.5 L497.8,447.1 L496.2,447.6 L494.5,448.1 L492.9,448.5 L491.2,448.9 L489.5,449.2 L487.8,449.6 L486.2,449.8 L484.5,450.1 L482.8,450.2 L481.1,450.4 L479.4,450.5 L477.7,450.6 L476.0,450.6 L474.3,450.6 L474.3,450.6 L476.0,450.1 L477.7,449.7 L479.4,449.2 L481.1,448.7 L482.7,448.1 L484.3,447.6 L485.8,447.0 L487.3,446.3 L488.8,445.7 L490.3,445.0 L491.7,444.3 L493.1,443.6 L494.5,442.9 L495.8,442.2 L497.2,441.5 L498.5,440.9 L499.8,440.2 L501.1,439.5 L502.4,438.9 L503.7,438.3 L505.0,437.7 L506.4,437.1 L507.8,436.6 L509.2,436.1 L510.7,435.6 L512.3,435.2 L513.9,434.8 L515.7,434.4 L517.7,434.2 L520.6,434.6Z" fill="#cdc099" opacity="0.97"/>
<text x="423.1" y="459" font-size="11" fill="#f2f2f2" font-weight="400" text-anchor="start" font-style="normal" >Slice: 62</text>
<rect x="551.0" y="348.2" width="120.9" height="111.4" fill="#000"/>
<path d="M669.70,403.80 L669.48,407.47 L668.84,411.13 L667.77,414.74 L666.28,418.30 L664.39,421.77 L662.10,425.15 L659.45,428.40 L656.43,431.51 L653.09,434.46 L649.45,437.22 L645.52,439.77 L641.35,442.09 L636.96,444.17 L632.39,445.97 L627.68,447.48 L622.85,448.68 L617.94,449.56 L613.00,450.10 L608.06,450.29 L603.15,450.11 L598.32,449.56 L593.61,448.65 L589.04,447.36 L584.65,445.70 L580.48,443.68 L576.55,441.32 L572.91,438.62 L569.57,435.61 L566.55,432.31 L563.90,428.75 L561.61,424.96 L559.72,420.97 L558.23,416.83 L557.16,412.55 L556.52,408.20 L556.30,403.80 L556.52,399.40 L557.16,395.05 L558.23,390.77 L559.72,386.63 L561.61,382.64 L563.90,378.85 L566.55,375.29 L569.57,371.99 L572.91,368.98 L576.55,366.28 L580.48,363.92 L584.65,361.90 L589.04,360.24 L593.61,358.95 L598.32,358.04 L603.15,357.49 L608.06,357.31 L613.00,357.50 L617.94,358.04 L622.85,358.92 L627.68,360.12 L632.39,361.63 L636.96,363.43 L641.35,365.51 L645.52,367.83 L649.45,370.38 L653.09,373.14 L656.43,376.09 L659.45,379.20 L662.10,382.45 L664.39,385.83 L666.28,389.30 L667.77,392.86 L668.84,396.47 L669.48,400.13Z" fill="#000" stroke="#e8e8e8" stroke-width="2.4"/>
<clipPath id="c_r2b5"><path d="M663.72,403.80 L663.52,407.17 L662.93,410.51 L661.96,413.82 L660.60,417.08 L658.88,420.26 L656.79,423.36 L654.37,426.34 L651.62,429.19 L648.58,431.88 L645.25,434.41 L641.67,436.75 L637.87,438.88 L633.87,440.78 L629.70,442.43 L625.40,443.82 L620.99,444.92 L616.52,445.72 L612.02,446.22 L607.51,446.39 L603.04,446.23 L598.63,445.73 L594.33,444.89 L590.16,443.71 L586.16,442.19 L582.36,440.34 L578.78,438.17 L575.45,435.70 L572.41,432.95 L569.66,429.92 L567.24,426.66 L565.16,423.19 L563.43,419.53 L562.07,415.73 L561.10,411.82 L560.51,407.83 L560.31,403.80 L560.51,399.77 L561.10,395.78 L562.07,391.87 L563.43,388.07 L565.16,384.41 L567.24,380.94 L569.66,377.68 L572.41,374.65 L575.45,371.90 L578.78,369.43 L582.36,367.26 L586.16,365.41 L590.16,363.89 L594.33,362.71 L598.63,361.87 L603.04,361.37 L607.51,361.21 L612.02,361.38 L616.52,361.88 L620.99,362.68 L625.40,363.78 L629.70,365.17 L633.87,366.82 L637.87,368.72 L641.67,370.85 L645.25,373.19 L648.58,375.72 L651.62,378.41 L654.37,381.26 L656.79,384.24 L658.88,387.34 L660.60,390.52 L661.96,393.78 L662.93,397.09 L663.52,400.43Z"/></clipPath>
<g clip-path="url(#c_r2b5)">
<rect x="556.3" y="357.4" width="111.4" height="92.8" fill="#949494"/>
<g filter="url(#d_r2b5)" opacity="1">
<ellipse cx="612.0" cy="403.8" rx="28.4" ry="18.7" fill="#ececec"/>
<path d="M624.9,403.0 Q638.0,401.6 651.3,403.2 M636.6,402.2 L642.7,395.9 M647.8,401.5 L653.5,393.4 M624.8,405.1 Q639.9,406.3 655.0,407.1 M635.3,406.1 L641.6,411.4 M624.2,407.0 Q637.6,411.2 652.6,411.7 M642.0,411.8 L651.5,405.8 M622.3,409.7 Q635.0,414.9 642.0,425.9 M638.1,418.9 L637.7,428.1 M621.6,410.4 Q632.4,420.0 648.9,424.3 M631.4,417.2 L640.9,417.1 M634.7,419.6 L633.7,428.5 M618.6,412.5 Q623.7,425.8 628.6,438.9 M624.9,421.1 L623.8,428.5 M617.6,413.0 Q624.1,425.4 629.3,438.3 M624.3,424.0 L619.6,432.3 M615.2,413.8 Q616.6,425.9 623.3,436.6 M618.1,423.1 L628.0,426.0 M611.7,414.4 Q613.8,428.3 616.4,442.0 M611.4,423.5 L603.0,429.4 M608.4,414.2 Q603.6,426.2 595.2,437.2 M602.7,430.9 L590.2,434.0 M607.6,414.1 Q598.4,425.8 598.7,440.3 M602.4,426.1 L592.9,429.9 M605.5,413.4 Q597.1,424.4 584.9,433.3 M602.2,411.2 Q588.5,419.7 576.2,429.6 M589.3,420.8 L579.4,420.4 M588.3,421.6 L577.1,419.2 M601.3,410.2 Q592.0,418.6 577.3,420.4 M599.9,407.8 Q586.6,414.8 569.6,412.9 M585.1,412.8 L580.8,420.6 M599.5,406.6 Q583.6,411.7 566.6,412.8 M577.7,411.5 L572.4,419.0 M599.1,403.6 Q582.3,405.1 565.6,407.3 M583.6,403.3 L576.7,396.6 M599.2,402.1 Q585.6,401.4 572.7,396.2 M579.1,399.5 L571.4,408.6 M600.2,399.1 Q584.8,393.2 570.7,384.8 M585.9,393.3 L576.4,397.0 M585.3,393.0 L575.3,398.9 M601.0,397.8 Q588.3,392.6 580.4,381.1 M588.8,391.2 L579.3,392.7 M585.2,389.3 L585.0,379.0 M603.2,395.6 Q589.6,387.8 586.2,372.2 M593.3,386.5 L594.2,378.0 M604.5,394.7 Q597.2,384.0 588.3,374.1 M595.4,383.8 L583.6,383.9 M592.1,379.8 L596.4,370.8 M606.7,393.8 Q601.9,379.8 586.2,369.6 M599.8,380.8 L602.8,373.4 M600.8,382.6 L589.6,380.4 M608.9,393.3 Q605.2,379.7 594.3,367.5 M604.9,379.9 L611.0,373.3 M604.2,377.7 L609.7,371.0 M613.1,393.3 Q613.3,381.1 622.1,370.6 M615.0,375.8 L623.2,371.2 M614.1,384.3 L619.8,379.1 M615.0,393.7 Q617.8,382.0 626.5,372.0 M617.5,394.5 Q624.0,382.2 632.5,370.7 M622.6,385.9 L633.1,384.4 M619.9,395.8 Q627.2,387.2 632.9,377.7 M633.7,381.8 L646.2,383.4 M621.3,396.9 Q632.7,387.7 639.9,375.5 M637.1,385.2 L637.2,377.1 M623.0,398.7 Q635.7,393.9 646.7,387.0 M637.4,391.9 L648.0,395.5 M637.2,392.0 L646.7,393.4 M623.9,400.0 Q635.5,394.8 647.5,390.3 M634.1,396.7 L643.0,398.3 M624.8,402.3 Q640.4,402.5 655.9,402.9 M642.5,400.1 L648.4,393.9 M645.0,399.8 L653.1,405.7" stroke="#ececec" stroke-width="2.8" stroke-linecap="round" stroke-linejoin="round" fill="none"/>
<ellipse cx="615.3" cy="403.8" rx="9.3" ry="12.3" fill="#ececec"/>
</g>
<rect x="560.3" y="361.4" width="103.4" height="84.8" filter="url(#s_r2b5)"/>
<path d="M603.7,391.9 Q586.4,403.8 603.7,415.7 Q595.6,403.8 603.7,391.9Z" fill="#050505" filter="url(#soft)"/>
<ellipse cx="612.0" cy="403.8" rx="51.7" ry="42.4" fill="url(#vign)"/>
<line x1="560.3" y1="403.8" x2="663.7" y2="403.8" stroke="#111" stroke-width="0.7" opacity="0.3"/>
<ellipse cx="666.3" cy="403.8" rx="11.6" ry="26.1" fill="#000" opacity="0.9" filter="url(#soft2)"/>
</g>
<path d="M606.2,358.3 L607.9,358.3 L609.6,358.3 L611.3,358.4 L613.1,358.5 L614.8,358.6 L616.5,358.8 L618.2,359.0 L619.9,359.3 L621.6,359.6 L623.3,360.0 L625.0,360.4 L626.7,360.8 L628.3,361.3 L630.0,361.8 L631.6,362.3 L633.2,362.9 L634.8,363.5 L636.4,364.2 L637.9,364.9 L639.5,365.6 L641.0,366.3 L642.4,367.1 L643.9,367.9 L645.3,368.8 L646.7,369.6 L648.0,370.5 L649.3,371.4 L650.6,372.4 L651.9,373.4 L653.1,374.3 L653.1,374.3 L650.2,374.7 L648.1,374.5 L646.3,374.1 L644.7,373.7 L643.1,373.3 L641.6,372.8 L640.1,372.3 L638.7,371.8 L637.3,371.2 L636.0,370.6 L634.7,370.0 L633.3,369.3 L632.0,368.7 L630.7,368.0 L629.4,367.3 L628.0,366.6 L626.7,365.9 L625.3,365.2 L623.9,364.5 L622.4,363.8 L620.9,363.2 L619.4,362.5 L617.9,361.9 L616.3,361.3 L614.7,360.7 L613.1,360.2 L611.4,359.7 L609.7,359.2 L608.0,358.7 L606.2,358.3Z" fill="#cdc099" opacity="0.97"/>
<path d="M653.1,433.3 L651.9,434.2 L650.6,435.2 L649.3,436.2 L648.0,437.1 L646.7,438.0 L645.3,438.8 L643.9,439.7 L642.4,440.5 L641.0,441.3 L639.5,442.0 L637.9,442.7 L636.4,443.4 L634.8,444.1 L633.2,444.7 L631.6,445.3 L630.0,445.8 L628.3,446.3 L626.7,446.8 L625.0,447.2 L623.3,447.6 L621.6,448.0 L619.9,448.3 L618.2,448.6 L616.5,448.8 L614.8,449.0 L613.1,449.1 L611.3,449.2 L609.6,449.3 L607.9,449.3 L606.2,449.3 L606.2,449.3 L608.0,448.9 L609.7,448.4 L611.4,447.9 L613.1,447.4 L614.7,446.9 L616.3,446.3 L617.9,445.7 L619.4,445.1 L620.9,444.4 L622.4,443.8 L623.9,443.1 L625.3,442.4 L626.7,441.7 L628.0,441.0 L629.4,440.3 L630.7,439.6 L632.0,438.9 L633.3,438.3 L634.7,437.6 L636.0,437.0 L637.3,436.4 L638.7,435.8 L640.1,435.3 L641.6,434.8 L643.1,434.3 L644.7,433.9 L646.3,433.5 L648.1,433.1 L650.2,432.9 L653.1,433.3Z" fill="#cdc099" opacity="0.97"/>
<text x="551.9" y="456.4" font-size="11" fill="#f2f2f2" font-weight="400" text-anchor="start" font-style="normal" >Slice: 74</text>
<line x1="39.3" y1="468.6" x2="126.9" y2="468.6" stroke="#cfcfcf" stroke-width="1.4"/>
<line x1="39.3" y1="519.6" x2="126.9" y2="519.6" stroke="#888" stroke-width="1"/>
<line x1="39.3" y1="468.6" x2="39.3" y2="519.6" stroke="#888" stroke-width="1"/>
<line x1="126.9" y1="468.6" x2="126.9" y2="519.6" stroke="#888" stroke-width="1"/>
<line x1="37.3" y1="468.6" x2="39.3" y2="468.6" stroke="#444" stroke-width="0.7"/>
<text x="36.3" y="470.8" font-size="6.2" fill="#333" font-weight="400" text-anchor="end" font-style="normal" >35</text>
<line x1="37.3" y1="481.4" x2="39.3" y2="481.4" stroke="#444" stroke-width="0.7"/>
<text x="36.3" y="483.6" font-size="6.2" fill="#333" font-weight="400" text-anchor="end" font-style="normal" >30</text>
<line x1="37.3" y1="494.1" x2="39.3" y2="494.1" stroke="#444" stroke-width="0.7"/>
<text x="36.3" y="496.3" font-size="6.2" fill="#333" font-weight="400" text-anchor="end" font-style="normal" >25</text>
<line x1="37.3" y1="506.9" x2="39.3" y2="506.9" stroke="#444" stroke-width="0.7"/>
<text x="36.3" y="509.1" font-size="6.2" fill="#333" font-weight="400" text-anchor="end" font-style="normal" >20</text>
<line x1="37.3" y1="519.6" x2="39.3" y2="519.6" stroke="#444" stroke-width="0.7"/>
<text x="36.3" y="521.8" font-size="6.2" fill="#333" font-weight="400" text-anchor="end" font-style="normal" >15</text>
<line x1="126.9" y1="468.6" x2="128.9" y2="468.6" stroke="#444" stroke-width="0.7"/>
<text x="129.9" y="470.8" font-size="6.2" fill="#333" font-weight="400" text-anchor="start" font-style="normal" >100</text>
<line x1="126.9" y1="478.8" x2="128.9" y2="478.8" stroke="#444" stroke-width="0.7"/>
<text x="129.9" y="481.0" font-size="6.2" fill="#333" font-weight="400" text-anchor="start" font-style="normal" >80</text>
<line x1="126.9" y1="489.0" x2="128.9" y2="489.0" stroke="#444" stroke-width="0.7"/>
<text x="129.9" y="491.2" font-size="6.2" fill="#333" font-weight="400" text-anchor="start" font-style="normal" >60</text>
<line x1="126.9" y1="499.2" x2="128.9" y2="499.2" stroke="#444" stroke-width="0.7"/>
<text x="129.9" y="501.4" font-size="6.2" fill="#333" font-weight="400" text-anchor="start" font-style="normal" >40</text>
<line x1="126.9" y1="509.4" x2="128.9" y2="509.4" stroke="#444" stroke-width="0.7"/>
<text x="129.9" y="511.6" font-size="6.2" fill="#333" font-weight="400" text-anchor="start" font-style="normal" >20</text>
<line x1="126.9" y1="519.6" x2="128.9" y2="519.6" stroke="#444" stroke-width="0.7"/>
<text x="129.9" y="521.8" font-size="6.2" fill="#333" font-weight="400" text-anchor="start" font-style="normal" >0</text>
<line x1="39.3" y1="519.6" x2="39.3" y2="521.6" stroke="#444" stroke-width="0.7"/>
<text x="39.3" y="527.6" font-size="6.2" fill="#333" font-weight="400" text-anchor="middle" font-style="normal" >8</text>
<line x1="61.2" y1="519.6" x2="61.2" y2="521.6" stroke="#444" stroke-width="0.7"/>
<text x="61.2" y="527.6" font-size="6.2" fill="#333" font-weight="400" text-anchor="middle" font-style="normal" >9</text>
<line x1="83.1" y1="519.6" x2="83.1" y2="521.6" stroke="#444" stroke-width="0.7"/>
<text x="83.1" y="527.6" font-size="6.2" fill="#333" font-weight="400" text-anchor="middle" font-style="normal" >10</text>
<line x1="105.0" y1="519.6" x2="105.0" y2="521.6" stroke="#444" stroke-width="0.7"/>
<text x="105.0" y="527.6" font-size="6.2" fill="#333" font-weight="400" text-anchor="middle" font-style="normal" >11</text>
<line x1="126.9" y1="519.6" x2="126.9" y2="521.6" stroke="#444" stroke-width="0.7"/>
<text x="126.9" y="527.6" font-size="6.2" fill="#333" font-weight="400" text-anchor="middle" font-style="normal" >12</text>
<line x1="61.2" y1="486.7" x2="83.1" y2="485.2" stroke="#ffa726" stroke-width="1.15"/>
<line x1="61.2" y1="507.1" x2="83.1" y2="506.1" stroke="#ff2b2b" stroke-width="1.15"/>
<text x="65" y="484.5" font-size="7" fill="#d98f10" font-weight="400" text-anchor="start" font-style="normal" >iTMT →</text>
<text x="68.2" y="500.8" font-size="7" fill="#b3121e" font-weight="400" text-anchor="start" font-style="normal" >BMI →</text>
<text transform="translate(139.0,490.4) rotate(90)" font-size="9.2" text-anchor="middle" fill="#111">%tile</text>
<text x="83.1" y="536.9" font-size="9.8" fill="#111" font-weight="400" text-anchor="middle" font-style="normal" >Age</text>
<line x1="169" y1="468.8" x2="261" y2="468.8" stroke="#cfcfcf" stroke-width="1.4"/>
<line x1="169" y1="521.3" x2="261" y2="521.3" stroke="#888" stroke-width="1"/>
<line x1="169" y1="468.8" x2="169" y2="521.3" stroke="#888" stroke-width="1"/>
<line x1="261" y1="468.8" x2="261" y2="521.3" stroke="#888" stroke-width="1"/>
<line x1="167" y1="468.8" x2="169" y2="468.8" stroke="#444" stroke-width="0.7"/>
<text x="166" y="471.0" font-size="6.2" fill="#333" font-weight="400" text-anchor="end" font-style="normal" >35</text>
<line x1="167" y1="481.9" x2="169" y2="481.9" stroke="#444" stroke-width="0.7"/>
<text x="166" y="484.1" font-size="6.2" fill="#333" font-weight="400" text-anchor="end" font-style="normal" >30</text>
<line x1="167" y1="495.0" x2="169" y2="495.0" stroke="#444" stroke-width="0.7"/>
<text x="166" y="497.2" font-size="6.2" fill="#333" font-weight="400" text-anchor="end" font-style="normal" >25</text>
<line x1="167" y1="508.2" x2="169" y2="508.2" stroke="#444" stroke-width="0.7"/>
<text x="166" y="510.4" font-size="6.2" fill="#333" font-weight="400" text-anchor="end" font-style="normal" >20</text>
<line x1="167" y1="521.3" x2="169" y2="521.3" stroke="#444" stroke-width="0.7"/>
<text x="166" y="523.5" font-size="6.2" fill="#333" font-weight="400" text-anchor="end" font-style="normal" >15</text>
<line x1="261" y1="468.8" x2="263" y2="468.8" stroke="#444" stroke-width="0.7"/>
<text x="264" y="471.0" font-size="6.2" fill="#333" font-weight="400" text-anchor="start" font-style="normal" >100</text>
<line x1="261" y1="479.3" x2="263" y2="479.3" stroke="#444" stroke-width="0.7"/>
<text x="264" y="481.5" font-size="6.2" fill="#333" font-weight="400" text-anchor="start" font-style="normal" >80</text>
<line x1="261" y1="489.8" x2="263" y2="489.8" stroke="#444" stroke-width="0.7"/>
<text x="264" y="492.0" font-size="6.2" fill="#333" font-weight="400" text-anchor="start" font-style="normal" >60</text>
<line x1="261" y1="500.3" x2="263" y2="500.3" stroke="#444" stroke-width="0.7"/>
<text x="264" y="502.5" font-size="6.2" fill="#333" font-weight="400" text-anchor="start" font-style="normal" >40</text>
<line x1="261" y1="510.8" x2="263" y2="510.8" stroke="#444" stroke-width="0.7"/>
<text x="264" y="513.0" font-size="6.2" fill="#333" font-weight="400" text-anchor="start" font-style="normal" >20</text>
<line x1="261" y1="521.3" x2="263" y2="521.3" stroke="#444" stroke-width="0.7"/>
<text x="264" y="523.5" font-size="6.2" fill="#333" font-weight="400" text-anchor="start" font-style="normal" >0</text>
<line x1="169.0" y1="521.3" x2="169.0" y2="523.3" stroke="#444" stroke-width="0.7"/>
<text x="169.0" y="529.3" font-size="6.2" fill="#333" font-weight="400" text-anchor="middle" font-style="normal" >8</text>
<line x1="192.0" y1="521.3" x2="192.0" y2="523.3" stroke="#444" stroke-width="0.7"/>
<text x="192.0" y="529.3" font-size="6.2" fill="#333" font-weight="400" text-anchor="middle" font-style="normal" >9</text>
<line x1="215.0" y1="521.3" x2="215.0" y2="523.3" stroke="#444" stroke-width="0.7"/>
<text x="215.0" y="529.3" font-size="6.2" fill="#333" font-weight="400" text-anchor="middle" font-style="normal" >10</text>
<line x1="238.0" y1="521.3" x2="238.0" y2="523.3" stroke="#444" stroke-width="0.7"/>
<text x="238.0" y="529.3" font-size="6.2" fill="#333" font-weight="400" text-anchor="middle" font-style="normal" >11</text>
<line x1="261.0" y1="521.3" x2="261.0" y2="523.3" stroke="#444" stroke-width="0.7"/>
<text x="261.0" y="529.3" font-size="6.2" fill="#333" font-weight="400" text-anchor="middle" font-style="normal" >12</text>
<line x1="192.0" y1="508.2" x2="238.0" y2="474.3" stroke="#ff2b2b" stroke-width="1.15"/>
<line x1="192.0" y1="506.3" x2="238.0" y2="472.7" stroke="#ffa726" stroke-width="1.15"/>
<text transform="translate(195.5,500) rotate(-33)" font-size="7" fill="#d98f10">iTMT ↑</text>
<text transform="translate(218.5,485.5) rotate(-33)" font-size="7" fill="#b3121e">BMI ↑</text>
<text transform="translate(269.6,490.2) rotate(90)" font-size="9.2" text-anchor="middle" fill="#111">%tile</text>
<text x="215.0" y="537.4" font-size="9.8" fill="#111" font-weight="400" text-anchor="middle" font-style="normal" >Age</text>
<line x1="291.8" y1="465.6" x2="390.5" y2="465.6" stroke="#cfcfcf" stroke-width="1.4"/>
<line x1="291.8" y1="524.5" x2="390.5" y2="524.5" stroke="#888" stroke-width="1"/>
<line x1="291.8" y1="465.6" x2="291.8" y2="524.5" stroke="#888" stroke-width="1"/>
<line x1="390.5" y1="465.6" x2="390.5" y2="524.5" stroke="#888" stroke-width="1"/>
<line x1="289.8" y1="465.6" x2="291.8" y2="465.6" stroke="#444" stroke-width="0.7"/>
<text x="288.8" y="467.8" font-size="6.2" fill="#333" font-weight="400" text-anchor="end" font-style="normal" >35</text>
<line x1="289.8" y1="480.3" x2="291.8" y2="480.3" stroke="#444" stroke-width="0.7"/>
<text x="288.8" y="482.5" font-size="6.2" fill="#333" font-weight="400" text-anchor="end" font-style="normal" >30</text>
<line x1="289.8" y1="495.1" x2="291.8" y2="495.1" stroke="#444" stroke-width="0.7"/>
<text x="288.8" y="497.2" font-size="6.2" fill="#333" font-weight="400" text-anchor="end" font-style="normal" >25</text>
<line x1="289.8" y1="509.8" x2="291.8" y2="509.8" stroke="#444" stroke-width="0.7"/>
<text x="288.8" y="512.0" font-size="6.2" fill="#333" font-weight="400" text-anchor="end" font-style="normal" >20</text>
<line x1="289.8" y1="524.5" x2="291.8" y2="524.5" stroke="#444" stroke-width="0.7"/>
<text x="288.8" y="526.7" font-size="6.2" fill="#333" font-weight="400" text-anchor="end" font-style="normal" >15</text>
<line x1="390.5" y1="465.6" x2="392.5" y2="465.6" stroke="#444" stroke-width="0.7"/>
<text x="393.5" y="467.8" font-size="6.2" fill="#333" font-weight="400" text-anchor="start" font-style="normal" >100</text>
<line x1="390.5" y1="477.4" x2="392.5" y2="477.4" stroke="#444" stroke-width="0.7"/>
<text x="393.5" y="479.6" font-size="6.2" fill="#333" font-weight="400" text-anchor="start" font-style="normal" >80</text>
<line x1="390.5" y1="489.2" x2="392.5" y2="489.2" stroke="#444" stroke-width="0.7"/>
<text x="393.5" y="491.4" font-size="6.2" fill="#333" font-weight="400" text-anchor="start" font-style="normal" >60</text>
<line x1="390.5" y1="500.9" x2="392.5" y2="500.9" stroke="#444" stroke-width="0.7"/>
<text x="393.5" y="503.1" font-size="6.2" fill="#333" font-weight="400" text-anchor="start" font-style="normal" >40</text>
<line x1="390.5" y1="512.7" x2="392.5" y2="512.7" stroke="#444" stroke-width="0.7"/>
<text x="393.5" y="514.9" font-size="6.2" fill="#333" font-weight="400" text-anchor="start" font-style="normal" >20</text>
<line x1="390.5" y1="524.5" x2="392.5" y2="524.5" stroke="#444" stroke-width="0.7"/>
<text x="393.5" y="526.7" font-size="6.2" fill="#333" font-weight="400" text-anchor="start" font-style="normal" >0</text>
<line x1="291.8" y1="524.5" x2="291.8" y2="526.5" stroke="#444" stroke-width="0.7"/>
<text x="291.8" y="532.5" font-size="6.2" fill="#333" font-weight="400" text-anchor="middle" font-style="normal" >8</text>
<line x1="316.5" y1="524.5" x2="316.5" y2="526.5" stroke="#444" stroke-width="0.7"/>
<text x="316.5" y="532.5" font-size="6.2" fill="#333" font-weight="400" text-anchor="middle" font-style="normal" >9</text>
<line x1="341.1" y1="524.5" x2="341.1" y2="526.5" stroke="#444" stroke-width="0.7"/>
<text x="341.1" y="532.5" font-size="6.2" fill="#333" font-weight="400" text-anchor="middle" font-style="normal" >10</text>
<line x1="365.8" y1="524.5" x2="365.8" y2="526.5" stroke="#444" stroke-width="0.7"/>
<text x="365.8" y="532.5" font-size="6.2" fill="#333" font-weight="400" text-anchor="middle" font-style="normal" >11</text>
<line x1="390.5" y1="524.5" x2="390.5" y2="526.5" stroke="#444" stroke-width="0.7"/>
<text x="390.5" y="532.5" font-size="6.2" fill="#333" font-weight="400" text-anchor="middle" font-style="normal" >12</text>
<line x1="341.1" y1="496.5" x2="390.5" y2="497.4" stroke="#ffa726" stroke-width="1.15"/>
<line x1="341.1" y1="502.1" x2="390.5" y2="475.6" stroke="#ff2b2b" stroke-width="1.15"/>
<text x="364.6" y="492.6" font-size="7" fill="#d98f10" font-weight="400" text-anchor="start" font-style="normal" >iTMT →</text>
<text transform="translate(361,486) rotate(-28)" font-size="7" fill="#b3121e">BMI ↑</text>
<text transform="translate(402.8,494.4) rotate(90)" font-size="9.2" text-anchor="middle" fill="#111">%tile</text>
<text x="341.1" y="538.6" font-size="9.8" fill="#111" font-weight="400" text-anchor="middle" font-style="normal" >Age</text>
<line x1="428.5" y1="464.8" x2="528.7" y2="464.8" stroke="#cfcfcf" stroke-width="1.4"/>
<line x1="428.5" y1="525.6" x2="528.7" y2="525.6" stroke="#888" stroke-width="1"/>
<line x1="428.5" y1="464.8" x2="428.5" y2="525.6" stroke="#888" stroke-width="1"/>
<line x1="528.7" y1="464.8" x2="528.7" y2="525.6" stroke="#888" stroke-width="1"/>
<line x1="426.5" y1="464.8" x2="428.5" y2="464.8" stroke="#444" stroke-width="0.7"/>
<text x="425.5" y="467.0" font-size="6.2" fill="#333" font-weight="400" text-anchor="end" font-style="normal" >35</text>
<line x1="426.5" y1="480.0" x2="428.5" y2="480.0" stroke="#444" stroke-width="0.7"/>
<text x="425.5" y="482.2" font-size="6.2" fill="#333" font-weight="400" text-anchor="end" font-style="normal" >30</text>
<line x1="426.5" y1="495.2" x2="428.5" y2="495.2" stroke="#444" stroke-width="0.7"/>
<text x="425.5" y="497.4" font-size="6.2" fill="#333" font-weight="400" text-anchor="end" font-style="normal" >25</text>
<line x1="426.5" y1="510.4" x2="428.5" y2="510.4" stroke="#444" stroke-width="0.7"/>
<text x="425.5" y="512.6" font-size="6.2" fill="#333" font-weight="400" text-anchor="end" font-style="normal" >20</text>
<line x1="426.5" y1="525.6" x2="428.5" y2="525.6" stroke="#444" stroke-width="0.7"/>
<text x="425.5" y="527.8" font-size="6.2" fill="#333" font-weight="400" text-anchor="end" font-style="normal" >15</text>
<line x1="528.7" y1="464.8" x2="530.7" y2="464.8" stroke="#444" stroke-width="0.7"/>
<text x="531.7" y="467.0" font-size="6.2" fill="#333" font-weight="400" text-anchor="start" font-style="normal" >100</text>
<line x1="528.7" y1="477.0" x2="530.7" y2="477.0" stroke="#444" stroke-width="0.7"/>
<text x="531.7" y="479.2" font-size="6.2" fill="#333" font-weight="400" text-anchor="start" font-style="normal" >80</text>
<line x1="528.7" y1="489.1" x2="530.7" y2="489.1" stroke="#444" stroke-width="0.7"/>
<text x="531.7" y="491.3" font-size="6.2" fill="#333" font-weight="400" text-anchor="start" font-style="normal" >60</text>
<line x1="528.7" y1="501.3" x2="530.7" y2="501.3" stroke="#444" stroke-width="0.7"/>
<text x="531.7" y="503.5" font-size="6.2" fill="#333" font-weight="400" text-anchor="start" font-style="normal" >40</text>
<line x1="528.7" y1="513.4" x2="530.7" y2="513.4" stroke="#444" stroke-width="0.7"/>
<text x="531.7" y="515.6" font-size="6.2" fill="#333" font-weight="400" text-anchor="start" font-style="normal" >20</text>
<line x1="528.7" y1="525.6" x2="530.7" y2="525.6" stroke="#444" stroke-width="0.7"/>
<text x="531.7" y="527.8" font-size="6.2" fill="#333" font-weight="400" text-anchor="start" font-style="normal" >0</text>
<line x1="428.5" y1="525.6" x2="428.5" y2="527.6" stroke="#444" stroke-width="0.7"/>
<text x="428.5" y="533.6" font-size="6.2" fill="#333" font-weight="400" text-anchor="middle" font-style="normal" >8</text>
<line x1="453.6" y1="525.6" x2="453.6" y2="527.6" stroke="#444" stroke-width="0.7"/>
<text x="453.6" y="533.6" font-size="6.2" fill="#333" font-weight="400" text-anchor="middle" font-style="normal" >9</text>
<line x1="478.6" y1="525.6" x2="478.6" y2="527.6" stroke="#444" stroke-width="0.7"/>
<text x="478.6" y="533.6" font-size="6.2" fill="#333" font-weight="400" text-anchor="middle" font-style="normal" >10</text>
<line x1="503.7" y1="525.6" x2="503.7" y2="527.6" stroke="#444" stroke-width="0.7"/>
<text x="503.7" y="533.6" font-size="6.2" fill="#333" font-weight="400" text-anchor="middle" font-style="normal" >11</text>
<line x1="528.7" y1="525.6" x2="528.7" y2="527.6" stroke="#444" stroke-width="0.7"/>
<text x="528.7" y="533.6" font-size="6.2" fill="#333" font-weight="400" text-anchor="middle" font-style="normal" >12</text>
<line x1="478.6" y1="483.0" x2="528.7" y2="504.3" stroke="#ffa726" stroke-width="1.15"/>
<line x1="478.6" y1="484.3" x2="528.7" y2="510.1" stroke="#ff2b2b" stroke-width="1.15"/>
<text transform="translate(481,480.5) rotate(20)" font-size="7" fill="#b3121e">BMI ↓</text>
<text transform="translate(500,488) rotate(20)" font-size="7" fill="#d98f10">iTMT ↓</text>
<text transform="translate(540.6,490.6) rotate(90)" font-size="9.2" text-anchor="middle" fill="#111">%tile</text>
<text x="478.6" y="540.6" font-size="9.8" fill="#111" font-weight="400" text-anchor="middle" font-style="normal" >Age</text>
<line x1="559.5" y1="463.8" x2="664.6" y2="463.8" stroke="#cfcfcf" stroke-width="1.4"/>
<line x1="559.5" y1="526.2" x2="664.6" y2="526.2" stroke="#888" stroke-width="1"/>
<line x1="559.5" y1="463.8" x2="559.5" y2="526.2" stroke="#888" stroke-width="1"/>
<line x1="664.6" y1="463.8" x2="664.6" y2="526.2" stroke="#888" stroke-width="1"/>
<line x1="557.5" y1="463.8" x2="559.5" y2="463.8" stroke="#444" stroke-width="0.7"/>
<text x="556.5" y="466.0" font-size="6.2" fill="#333" font-weight="400" text-anchor="end" font-style="normal" >35</text>
<line x1="557.5" y1="479.4" x2="559.5" y2="479.4" stroke="#444" stroke-width="0.7"/>
<text x="556.5" y="481.6" font-size="6.2" fill="#333" font-weight="400" text-anchor="end" font-style="normal" >30</text>
<line x1="557.5" y1="495.0" x2="559.5" y2="495.0" stroke="#444" stroke-width="0.7"/>
<text x="556.5" y="497.2" font-size="6.2" fill="#333" font-weight="400" text-anchor="end" font-style="normal" >25</text>
<line x1="557.5" y1="510.6" x2="559.5" y2="510.6" stroke="#444" stroke-width="0.7"/>
<text x="556.5" y="512.8" font-size="6.2" fill="#333" font-weight="400" text-anchor="end" font-style="normal" >20</text>
<line x1="557.5" y1="526.2" x2="559.5" y2="526.2" stroke="#444" stroke-width="0.7"/>
<text x="556.5" y="528.4" font-size="6.2" fill="#333" font-weight="400" text-anchor="end" font-style="normal" >15</text>
<line x1="664.6" y1="463.8" x2="666.6" y2="463.8" stroke="#444" stroke-width="0.7"/>
<text x="667.6" y="466.0" font-size="6.2" fill="#333" font-weight="400" text-anchor="start" font-style="normal" >100</text>
<line x1="664.6" y1="476.3" x2="666.6" y2="476.3" stroke="#444" stroke-width="0.7"/>
<text x="667.6" y="478.5" font-size="6.2" fill="#333" font-weight="400" text-anchor="start" font-style="normal" >80</text>
<line x1="664.6" y1="488.8" x2="666.6" y2="488.8" stroke="#444" stroke-width="0.7"/>
<text x="667.6" y="491.0" font-size="6.2" fill="#333" font-weight="400" text-anchor="start" font-style="normal" >60</text>
<line x1="664.6" y1="501.2" x2="666.6" y2="501.2" stroke="#444" stroke-width="0.7"/>
<text x="667.6" y="503.4" font-size="6.2" fill="#333" font-weight="400" text-anchor="start" font-style="normal" >40</text>
<line x1="664.6" y1="513.7" x2="666.6" y2="513.7" stroke="#444" stroke-width="0.7"/>
<text x="667.6" y="515.9" font-size="6.2" fill="#333" font-weight="400" text-anchor="start" font-style="normal" >20</text>
<line x1="664.6" y1="526.2" x2="666.6" y2="526.2" stroke="#444" stroke-width="0.7"/>
<text x="667.6" y="528.4" font-size="6.2" fill="#333" font-weight="400" text-anchor="start" font-style="normal" >0</text>
<line x1="559.5" y1="526.2" x2="559.5" y2="528.2" stroke="#444" stroke-width="0.7"/>
<text x="559.5" y="534.2" font-size="6.2" fill="#333" font-weight="400" text-anchor="middle" font-style="normal" >8</text>
<line x1="585.8" y1="526.2" x2="585.8" y2="528.2" stroke="#444" stroke-width="0.7"/>
<text x="585.8" y="534.2" font-size="6.2" fill="#333" font-weight="400" text-anchor="middle" font-style="normal" >9</text>
<line x1="612.0" y1="526.2" x2="612.0" y2="528.2" stroke="#444" stroke-width="0.7"/>
<text x="612.0" y="534.2" font-size="6.2" fill="#333" font-weight="400" text-anchor="middle" font-style="normal" >10</text>
<line x1="638.3" y1="526.2" x2="638.3" y2="528.2" stroke="#444" stroke-width="0.7"/>
<text x="638.3" y="534.2" font-size="6.2" fill="#333" font-weight="400" text-anchor="middle" font-style="normal" >11</text>
<line x1="664.6" y1="526.2" x2="664.6" y2="528.2" stroke="#444" stroke-width="0.7"/>
<text x="664.6" y="534.2" font-size="6.2" fill="#333" font-weight="400" text-anchor="middle" font-style="normal" >12</text>
<line x1="559.5" y1="500.9" x2="638.3" y2="501.9" stroke="#ffa726" stroke-width="1.15"/>
<line x1="562.1" y1="463.8" x2="638.3" y2="508.1" stroke="#ff2b2b" stroke-width="1.15"/>
<text x="573.3" y="499.3" font-size="7" fill="#d98f10" font-weight="400" text-anchor="start" font-style="normal" >iTMT →</text>
<text transform="translate(594,477) rotate(38)" font-size="7" fill="#b3121e">BMI ↓</text>
<text transform="translate(677.3,491.7) rotate(90)" font-size="9.2" text-anchor="middle" fill="#111">%tile</text>
<text x="612.0" y="541.9" font-size="9.8" fill="#111" font-weight="400" text-anchor="middle" font-style="normal" >Age</text>
</svg></body></html>
